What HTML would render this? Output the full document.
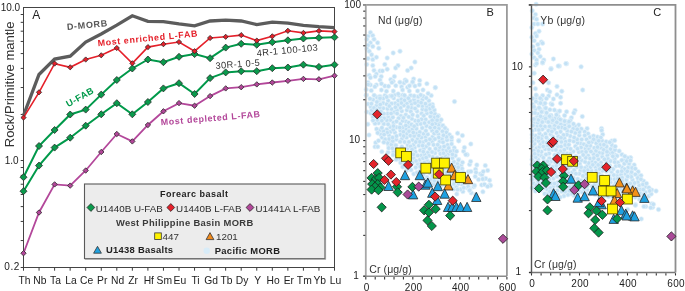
<!DOCTYPE html>
<html><head><meta charset="utf-8"><style>
html,body{margin:0;padding:0;background:#fff;}
svg{display:block;font-family:"Liberation Sans", sans-serif;will-change:transform;}
</style></head><body>
<svg width="685" height="291" viewBox="0 0 685 291">
<rect width="685" height="291" fill="#fff"/>
<g fill="#c3e1f5" stroke="#e4f2fb" stroke-width="0.7"><circle cx="370.4" cy="32.5" r="2.25"/><circle cx="372.8" cy="35.6" r="2.25"/><circle cx="368.0" cy="36.3" r="2.25"/><circle cx="374.0" cy="39.2" r="2.25"/><circle cx="366.8" cy="39.2" r="2.25"/><circle cx="370.4" cy="42.8" r="2.25"/><circle cx="377.6" cy="42.8" r="2.25"/><circle cx="368.0" cy="45.2" r="2.25"/><circle cx="372.8" cy="46.4" r="2.25"/><circle cx="378.8" cy="48.3" r="2.25"/><circle cx="366.8" cy="48.8" r="2.25"/><circle cx="369.2" cy="51.2" r="2.25"/><circle cx="371.6" cy="54.8" r="2.25"/><circle cx="393.2" cy="52.9" r="2.25"/><circle cx="400.0" cy="51.2" r="2.25"/><circle cx="376.4" cy="57.2" r="2.25"/><circle cx="368.0" cy="58.4" r="2.25"/><circle cx="372.8" cy="59.6" r="2.25"/><circle cx="387.2" cy="58.0" r="2.25"/><circle cx="366.8" cy="64.4" r="2.25"/><circle cx="372.8" cy="65.6" r="2.25"/><circle cx="384.8" cy="64.4" r="2.25"/><circle cx="398.0" cy="65.6" r="2.25"/><circle cx="395.6" cy="68.0" r="2.25"/><circle cx="414.9" cy="62.0" r="2.25"/><circle cx="411.2" cy="68.0" r="2.25"/><circle cx="407.6" cy="70.4" r="2.25"/><circle cx="374.0" cy="70.4" r="2.25"/><circle cx="380.0" cy="70.9" r="2.25"/><circle cx="382.4" cy="70.9" r="2.25"/><circle cx="387.2" cy="69.2" r="2.25"/><circle cx="376.4" cy="74.0" r="2.25"/><circle cx="369.2" cy="75.3" r="2.25"/><circle cx="370.4" cy="77.7" r="2.25"/><circle cx="375.2" cy="76.5" r="2.25"/><circle cx="381.2" cy="76.5" r="2.25"/><circle cx="394.4" cy="76.5" r="2.25"/><circle cx="390.8" cy="79.6" r="2.25"/><circle cx="393.2" cy="81.3" r="2.25"/><circle cx="380.0" cy="80.0" r="2.25"/><circle cx="405.2" cy="80.0" r="2.25"/><circle cx="404.0" cy="83.0" r="2.25"/><circle cx="413.6" cy="78.9" r="2.25"/><circle cx="412.4" cy="82.5" r="2.25"/><circle cx="419.7" cy="80.5" r="2.25"/><circle cx="426.9" cy="83.7" r="2.25"/><circle cx="435.3" cy="87.7" r="2.25"/><circle cx="368.0" cy="82.5" r="2.25"/><circle cx="370.4" cy="84.9" r="2.25"/><circle cx="376.4" cy="84.9" r="2.25"/><circle cx="384.8" cy="86.0" r="2.25"/><circle cx="401.6" cy="86.8" r="2.25"/><circle cx="407.6" cy="87.3" r="2.25"/><circle cx="414.9" cy="86.1" r="2.25"/><circle cx="435.3" cy="87.6" r="2.25"/><circle cx="431.2" cy="95.6" r="2.25"/><circle cx="454.5" cy="101.6" r="2.25"/><circle cx="432.4" cy="104.4" r="2.25"/><circle cx="433.6" cy="110.4" r="2.25"/><circle cx="438.4" cy="115.7" r="2.25"/><circle cx="432.4" cy="116.5" r="2.25"/><circle cx="434.8" cy="120.0" r="2.25"/><circle cx="439.6" cy="122.0" r="2.25"/><circle cx="440.8" cy="126.0" r="2.25"/><circle cx="446.8" cy="130.0" r="2.25"/><circle cx="457.6" cy="133.2" r="2.25"/><circle cx="462.4" cy="135.6" r="2.25"/><circle cx="458.8" cy="140.4" r="2.25"/><circle cx="470.8" cy="144.0" r="2.25"/><circle cx="463.6" cy="151.2" r="2.25"/><circle cx="467.2" cy="154.8" r="2.25"/><circle cx="454.0" cy="156.0" r="2.25"/><circle cx="458.8" cy="159.6" r="2.25"/><circle cx="469.6" cy="164.4" r="2.25"/><circle cx="475.6" cy="169.2" r="2.25"/><circle cx="485.3" cy="165.6" r="2.25"/><circle cx="487.7" cy="170.4" r="2.25"/><circle cx="480.4" cy="174.0" r="2.25"/><circle cx="484.1" cy="178.9" r="2.25"/><circle cx="490.0" cy="184.9" r="2.25"/><circle cx="481.7" cy="184.9" r="2.25"/><circle cx="468.4" cy="171.7" r="2.25"/><circle cx="476.0" cy="172.4" r="2.25"/><circle cx="482.0" cy="174.8" r="2.25"/><circle cx="485.7" cy="178.4" r="2.25"/><circle cx="490.5" cy="185.6" r="2.25"/><circle cx="484.5" cy="184.4" r="2.25"/><circle cx="478.5" cy="179.6" r="2.25"/><circle cx="471.3" cy="192.9" r="2.25"/><circle cx="462.9" cy="191.6" r="2.25"/><circle cx="456.8" cy="194.0" r="2.25"/><circle cx="467.7" cy="188.0" r="2.25"/><circle cx="473.7" cy="186.8" r="2.25"/><circle cx="367.8" cy="124.2" r="2.25"/><circle cx="375.7" cy="142.7" r="2.25"/><circle cx="378.5" cy="140.7" r="2.25"/><circle cx="375.0" cy="146.8" r="2.25"/><circle cx="377.8" cy="146.8" r="2.25"/><circle cx="381.9" cy="151.7" r="2.25"/><circle cx="388.1" cy="152.3" r="2.25"/><circle cx="389.5" cy="142.7" r="2.25"/><circle cx="388.8" cy="145.5" r="2.25"/><circle cx="394.3" cy="144.8" r="2.25"/><circle cx="366.5" cy="95.0" r="2.25"/><circle cx="368.0" cy="104.0" r="2.25"/><circle cx="366.8" cy="112.0" r="2.25"/><circle cx="369.0" cy="135.0" r="2.25"/><circle cx="414.7" cy="147.7" r="2.25"/><circle cx="420.3" cy="150.4" r="2.25"/><circle cx="387.7" cy="143.1" r="2.25"/><circle cx="432.6" cy="170.1" r="2.25"/><circle cx="378.5" cy="123.1" r="2.25"/><circle cx="468.2" cy="186.6" r="2.25"/><circle cx="435.0" cy="153.1" r="2.25"/><circle cx="384.9" cy="95.4" r="2.25"/><circle cx="422.4" cy="99.7" r="2.25"/><circle cx="388.2" cy="117.2" r="2.25"/><circle cx="421.4" cy="155.5" r="2.25"/><circle cx="415.2" cy="120.7" r="2.25"/><circle cx="469.8" cy="189.6" r="2.25"/><circle cx="453.9" cy="161.9" r="2.25"/><circle cx="400.8" cy="116.0" r="2.25"/><circle cx="398.2" cy="100.7" r="2.25"/><circle cx="446.4" cy="132.4" r="2.25"/><circle cx="380.9" cy="117.7" r="2.25"/><circle cx="379.2" cy="99.7" r="2.25"/><circle cx="425.5" cy="137.0" r="2.25"/><circle cx="380.8" cy="134.4" r="2.25"/><circle cx="390.5" cy="119.9" r="2.25"/><circle cx="390.3" cy="131.9" r="2.25"/><circle cx="455.3" cy="155.6" r="2.25"/><circle cx="393.5" cy="151.7" r="2.25"/><circle cx="406.5" cy="137.5" r="2.25"/><circle cx="427.0" cy="177.2" r="2.25"/><circle cx="387.5" cy="108.8" r="2.25"/><circle cx="460.8" cy="172.5" r="2.25"/><circle cx="394.2" cy="112.2" r="2.25"/><circle cx="443.7" cy="184.3" r="2.25"/><circle cx="411.6" cy="104.0" r="2.25"/><circle cx="429.2" cy="122.2" r="2.25"/><circle cx="375.9" cy="115.9" r="2.25"/><circle cx="414.0" cy="99.8" r="2.25"/><circle cx="386.8" cy="129.4" r="2.25"/><circle cx="426.8" cy="106.6" r="2.25"/><circle cx="438.8" cy="150.1" r="2.25"/><circle cx="417.7" cy="164.1" r="2.25"/><circle cx="443.4" cy="180.4" r="2.25"/><circle cx="443.4" cy="161.6" r="2.25"/><circle cx="449.1" cy="181.8" r="2.25"/><circle cx="404.5" cy="159.8" r="2.25"/><circle cx="460.0" cy="177.6" r="2.25"/><circle cx="411.1" cy="169.9" r="2.25"/><circle cx="432.1" cy="130.7" r="2.25"/><circle cx="427.9" cy="152.5" r="2.25"/><circle cx="442.5" cy="131.3" r="2.25"/><circle cx="443.2" cy="149.8" r="2.25"/><circle cx="417.6" cy="116.1" r="2.25"/><circle cx="439.5" cy="141.7" r="2.25"/><circle cx="431.1" cy="182.4" r="2.25"/><circle cx="394.8" cy="95.1" r="2.25"/><circle cx="399.4" cy="159.1" r="2.25"/><circle cx="389.0" cy="135.4" r="2.25"/><circle cx="453.5" cy="175.5" r="2.25"/><circle cx="397.0" cy="110.2" r="2.25"/><circle cx="432.2" cy="141.4" r="2.25"/><circle cx="376.5" cy="97.0" r="2.25"/><circle cx="370.9" cy="107.0" r="2.25"/><circle cx="414.9" cy="96.4" r="2.25"/><circle cx="383.2" cy="98.5" r="2.25"/><circle cx="432.5" cy="136.9" r="2.25"/><circle cx="432.6" cy="156.9" r="2.25"/><circle cx="450.5" cy="186.0" r="2.25"/><circle cx="417.0" cy="111.2" r="2.25"/><circle cx="396.5" cy="127.2" r="2.25"/><circle cx="431.1" cy="166.6" r="2.25"/><circle cx="382.1" cy="137.5" r="2.25"/><circle cx="407.1" cy="148.6" r="2.25"/><circle cx="457.8" cy="170.5" r="2.25"/><circle cx="434.8" cy="113.7" r="2.25"/><circle cx="441.9" cy="172.6" r="2.25"/><circle cx="433.8" cy="162.9" r="2.25"/><circle cx="423.2" cy="169.9" r="2.25"/><circle cx="418.2" cy="96.7" r="2.25"/><circle cx="383.2" cy="108.3" r="2.25"/><circle cx="421.2" cy="163.5" r="2.25"/><circle cx="391.4" cy="144.6" r="2.25"/><circle cx="454.2" cy="147.8" r="2.25"/><circle cx="400.5" cy="130.6" r="2.25"/><circle cx="454.4" cy="180.5" r="2.25"/><circle cx="426.9" cy="113.3" r="2.25"/><circle cx="423.1" cy="142.3" r="2.25"/><circle cx="423.4" cy="133.7" r="2.25"/><circle cx="465.6" cy="182.6" r="2.25"/><circle cx="396.2" cy="139.4" r="2.25"/><circle cx="417.1" cy="124.5" r="2.25"/><circle cx="438.4" cy="124.9" r="2.25"/><circle cx="404.9" cy="153.5" r="2.25"/><circle cx="406.9" cy="133.7" r="2.25"/><circle cx="422.5" cy="109.3" r="2.25"/><circle cx="433.5" cy="144.8" r="2.25"/><circle cx="395.2" cy="103.3" r="2.25"/><circle cx="409.7" cy="159.8" r="2.25"/><circle cx="370.8" cy="113.3" r="2.25"/><circle cx="437.9" cy="181.5" r="2.25"/><circle cx="420.1" cy="166.8" r="2.25"/><circle cx="419.8" cy="159.8" r="2.25"/><circle cx="388.1" cy="100.8" r="2.25"/><circle cx="387.6" cy="113.6" r="2.25"/><circle cx="453.9" cy="189.1" r="2.25"/><circle cx="415.7" cy="167.4" r="2.25"/><circle cx="402.0" cy="138.8" r="2.25"/><circle cx="439.8" cy="175.0" r="2.25"/><circle cx="444.2" cy="168.7" r="2.25"/><circle cx="439.2" cy="167.7" r="2.25"/><circle cx="435.6" cy="148.7" r="2.25"/><circle cx="394.9" cy="132.5" r="2.25"/><circle cx="374.1" cy="112.8" r="2.25"/><circle cx="406.9" cy="103.5" r="2.25"/><circle cx="385.2" cy="139.3" r="2.25"/><circle cx="405.9" cy="121.4" r="2.25"/><circle cx="398.9" cy="95.3" r="2.25"/><circle cx="393.7" cy="98.1" r="2.25"/><circle cx="412.4" cy="139.9" r="2.25"/><circle cx="442.0" cy="139.0" r="2.25"/><circle cx="430.0" cy="105.0" r="2.25"/><circle cx="422.3" cy="105.9" r="2.25"/><circle cx="413.7" cy="158.1" r="2.25"/><circle cx="427.8" cy="134.3" r="2.25"/><circle cx="447.6" cy="145.0" r="2.25"/><circle cx="448.2" cy="154.0" r="2.25"/><circle cx="373.0" cy="99.8" r="2.25"/><circle cx="424.6" cy="154.6" r="2.25"/><circle cx="390.3" cy="127.0" r="2.25"/><circle cx="376.5" cy="105.5" r="2.25"/><circle cx="411.9" cy="118.8" r="2.25"/><circle cx="401.9" cy="146.7" r="2.25"/><circle cx="412.2" cy="129.4" r="2.25"/><circle cx="376.9" cy="102.0" r="2.25"/><circle cx="426.0" cy="140.5" r="2.25"/><circle cx="405.1" cy="163.7" r="2.25"/><circle cx="461.8" cy="184.2" r="2.25"/><circle cx="463.4" cy="179.9" r="2.25"/><circle cx="405.9" cy="128.9" r="2.25"/><circle cx="409.0" cy="131.2" r="2.25"/><circle cx="388.7" cy="148.1" r="2.25"/><circle cx="424.0" cy="148.5" r="2.25"/><circle cx="434.5" cy="117.6" r="2.25"/><circle cx="408.8" cy="126.4" r="2.25"/><circle cx="418.9" cy="145.6" r="2.25"/><circle cx="452.4" cy="158.0" r="2.25"/><circle cx="411.5" cy="108.0" r="2.25"/><circle cx="406.9" cy="110.1" r="2.25"/><circle cx="375.0" cy="123.6" r="2.25"/><circle cx="428.0" cy="181.3" r="2.25"/><circle cx="451.5" cy="140.0" r="2.25"/><circle cx="406.5" cy="170.5" r="2.25"/><circle cx="395.9" cy="145.3" r="2.25"/><circle cx="377.3" cy="119.9" r="2.25"/><circle cx="417.5" cy="139.0" r="2.25"/><circle cx="400.5" cy="123.8" r="2.25"/><circle cx="442.9" cy="125.6" r="2.25"/><circle cx="383.2" cy="103.1" r="2.25"/><circle cx="437.4" cy="162.0" r="2.25"/><circle cx="387.2" cy="132.6" r="2.25"/><circle cx="453.5" cy="150.9" r="2.25"/><circle cx="410.1" cy="101.0" r="2.25"/><circle cx="446.5" cy="172.8" r="2.25"/><circle cx="410.6" cy="95.5" r="2.25"/><circle cx="403.6" cy="156.5" r="2.25"/><circle cx="379.7" cy="130.3" r="2.25"/><circle cx="404.6" cy="142.0" r="2.25"/><circle cx="427.2" cy="160.9" r="2.25"/><circle cx="425.6" cy="119.4" r="2.25"/><circle cx="460.8" cy="189.2" r="2.25"/><circle cx="435.5" cy="123.5" r="2.25"/><circle cx="389.2" cy="138.9" r="2.25"/><circle cx="383.4" cy="131.1" r="2.25"/><circle cx="421.5" cy="119.3" r="2.25"/><circle cx="426.4" cy="125.9" r="2.25"/><circle cx="416.5" cy="133.5" r="2.25"/><circle cx="432.0" cy="160.2" r="2.25"/><circle cx="410.3" cy="135.7" r="2.25"/><circle cx="401.4" cy="99.2" r="2.25"/><circle cx="428.9" cy="100.7" r="2.25"/><circle cx="419.8" cy="132.1" r="2.25"/><circle cx="436.2" cy="177.2" r="2.25"/><circle cx="393.6" cy="122.7" r="2.25"/><circle cx="400.1" cy="141.8" r="2.25"/><circle cx="436.1" cy="169.9" r="2.25"/><circle cx="397.0" cy="155.4" r="2.25"/><circle cx="413.5" cy="144.7" r="2.25"/><circle cx="420.1" cy="175.2" r="2.25"/><circle cx="430.4" cy="116.6" r="2.25"/><circle cx="448.4" cy="169.9" r="2.25"/><circle cx="392.8" cy="141.0" r="2.25"/><circle cx="426.5" cy="146.2" r="2.25"/><circle cx="383.8" cy="123.9" r="2.25"/><circle cx="452.9" cy="169.5" r="2.25"/><circle cx="405.8" cy="114.8" r="2.25"/><circle cx="373.0" cy="117.1" r="2.25"/><circle cx="446.1" cy="164.5" r="2.25"/><circle cx="438.8" cy="128.8" r="2.25"/><circle cx="441.2" cy="119.8" r="2.25"/><circle cx="408.8" cy="116.9" r="2.25"/><circle cx="400.5" cy="134.7" r="2.25"/><circle cx="442.3" cy="158.0" r="2.25"/><circle cx="383.9" cy="113.7" r="2.25"/><circle cx="426.2" cy="171.6" r="2.25"/><circle cx="439.8" cy="147.1" r="2.25"/><circle cx="437.7" cy="116.5" r="2.25"/><circle cx="400.6" cy="162.7" r="2.25"/><circle cx="401.8" cy="111.1" r="2.25"/><circle cx="447.0" cy="140.1" r="2.25"/><circle cx="402.7" cy="166.9" r="2.25"/><circle cx="440.4" cy="153.8" r="2.25"/><circle cx="438.4" cy="134.3" r="2.25"/><circle cx="449.8" cy="174.5" r="2.25"/><circle cx="386.7" cy="104.3" r="2.25"/><circle cx="418.3" cy="105.6" r="2.25"/><circle cx="432.2" cy="120.3" r="2.25"/><circle cx="413.8" cy="174.0" r="2.25"/><circle cx="371.7" cy="110.2" r="2.25"/><circle cx="444.1" cy="146.4" r="2.25"/><circle cx="379.7" cy="107.7" r="2.25"/><circle cx="431.2" cy="179.2" r="2.25"/><circle cx="438.7" cy="137.5" r="2.25"/><circle cx="429.7" cy="149.0" r="2.25"/><circle cx="463.7" cy="173.6" r="2.25"/><circle cx="380.9" cy="111.4" r="2.25"/><circle cx="457.5" cy="163.9" r="2.25"/><circle cx="416.4" cy="128.7" r="2.25"/><circle cx="410.1" cy="152.8" r="2.25"/><circle cx="456.2" cy="186.5" r="2.25"/><circle cx="408.8" cy="122.7" r="2.25"/><circle cx="391.5" cy="103.5" r="2.25"/><circle cx="449.4" cy="134.8" r="2.25"/><circle cx="414.2" cy="135.9" r="2.25"/><circle cx="423.2" cy="174.6" r="2.25"/><circle cx="428.7" cy="143.9" r="2.25"/><circle cx="398.6" cy="118.3" r="2.25"/><circle cx="396.5" cy="121.4" r="2.25"/><circle cx="392.6" cy="137.5" r="2.25"/><circle cx="422.2" cy="128.0" r="2.25"/><circle cx="418.1" cy="101.6" r="2.25"/><circle cx="463.8" cy="187.7" r="2.25"/><circle cx="402.9" cy="127.3" r="2.25"/><circle cx="408.1" cy="107.0" r="2.25"/><circle cx="417.1" cy="172.6" r="2.25"/><circle cx="415.4" cy="151.9" r="2.25"/><circle cx="390.4" cy="95.9" r="2.25"/><circle cx="396.2" cy="149.1" r="2.25"/><circle cx="417.7" cy="155.6" r="2.25"/><circle cx="448.3" cy="177.9" r="2.25"/><circle cx="402.7" cy="120.8" r="2.25"/><circle cx="433.8" cy="184.1" r="2.25"/><circle cx="426.9" cy="165.4" r="2.25"/><circle cx="409.7" cy="156.4" r="2.25"/><circle cx="423.3" cy="96.3" r="2.25"/><circle cx="386.8" cy="120.2" r="2.25"/><circle cx="400.4" cy="150.8" r="2.25"/><circle cx="420.7" cy="123.9" r="2.25"/><circle cx="456.7" cy="174.3" r="2.25"/><circle cx="425.4" cy="103.7" r="2.25"/><circle cx="425.9" cy="130.8" r="2.25"/><circle cx="407.8" cy="145.0" r="2.25"/><circle cx="431.1" cy="112.6" r="2.25"/><circle cx="402.9" cy="94.9" r="2.25"/><circle cx="443.8" cy="177.1" r="2.25"/><circle cx="411.5" cy="124.5" r="2.25"/><circle cx="410.8" cy="111.6" r="2.25"/><circle cx="429.9" cy="173.1" r="2.25"/><circle cx="403.8" cy="105.6" r="2.25"/><circle cx="420.1" cy="171.2" r="2.25"/><circle cx="384.1" cy="134.6" r="2.25"/><circle cx="434.9" cy="139.1" r="2.25"/><circle cx="429.9" cy="139.2" r="2.25"/><circle cx="465.0" cy="177.0" r="2.25"/><circle cx="445.6" cy="156.0" r="2.25"/><circle cx="446.6" cy="150.7" r="2.25"/><circle cx="421.6" cy="113.5" r="2.25"/><circle cx="381.9" cy="127.8" r="2.25"/><circle cx="405.3" cy="97.1" r="2.25"/><circle cx="388.1" cy="124.3" r="2.25"/><circle cx="410.6" cy="146.4" r="2.25"/><circle cx="371.4" cy="103.7" r="2.25"/><circle cx="458.4" cy="183.7" r="2.25"/><circle cx="430.2" cy="127.6" r="2.25"/><circle cx="392.9" cy="117.3" r="2.25"/><circle cx="437.2" cy="157.8" r="2.25"/><circle cx="432.1" cy="152.0" r="2.25"/><circle cx="429.0" cy="155.8" r="2.25"/><circle cx="451.6" cy="165.0" r="2.25"/><circle cx="461.1" cy="165.7" r="2.25"/><circle cx="397.3" cy="152.2" r="2.25"/><circle cx="421.4" cy="137.6" r="2.25"/><circle cx="397.1" cy="113.5" r="2.25"/><circle cx="413.3" cy="132.5" r="2.25"/><circle cx="393.2" cy="129.7" r="2.25"/><circle cx="446.5" cy="136.9" r="2.25"/><circle cx="434.2" cy="133.5" r="2.25"/><circle cx="432.4" cy="176.0" r="2.25"/><circle cx="384.1" cy="118.3" r="2.25"/><circle cx="405.8" cy="125.5" r="2.25"/><circle cx="423.0" cy="158.3" r="2.25"/><circle cx="398.0" cy="105.0" r="2.25"/><circle cx="446.9" cy="187.0" r="2.25"/><circle cx="376.6" cy="129.0" r="2.25"/><circle cx="391.5" cy="109.0" r="2.25"/><circle cx="448.7" cy="148.1" r="2.25"/><circle cx="447.9" cy="158.2" r="2.25"/><circle cx="451.6" cy="143.9" r="2.25"/><circle cx="454.9" cy="166.7" r="2.25"/><circle cx="408.1" cy="162.6" r="2.25"/><circle cx="434.4" cy="110.0" r="2.25"/><circle cx="434.3" cy="167.1" r="2.25"/><circle cx="440.2" cy="178.3" r="2.25"/><circle cx="434.7" cy="127.5" r="2.25"/><circle cx="424.5" cy="123.1" r="2.25"/><circle cx="410.2" cy="165.1" r="2.25"/><circle cx="443.4" cy="135.2" r="2.25"/><circle cx="419.7" cy="141.8" r="2.25"/><circle cx="415.7" cy="142.0" r="2.25"/><circle cx="396.5" cy="136.1" r="2.25"/><circle cx="379.0" cy="114.2" r="2.25"/><circle cx="408.9" cy="141.9" r="2.25"/><circle cx="458.5" cy="159.9" r="2.25"/><circle cx="391.1" cy="113.5" r="2.25"/><circle cx="429.9" cy="108.7" r="2.25"/><circle cx="414.2" cy="126.2" r="2.25"/><circle cx="395.4" cy="107.3" r="2.25"/><circle cx="422.0" cy="178.1" r="2.25"/><circle cx="399.7" cy="127.5" r="2.25"/><circle cx="374.0" cy="107.9" r="2.25"/><circle cx="453.8" cy="183.9" r="2.25"/><circle cx="412.6" cy="162.5" r="2.25"/><circle cx="426.2" cy="98.0" r="2.25"/><circle cx="376.7" cy="110.0" r="2.25"/><circle cx="432.8" cy="106.9" r="2.25"/><circle cx="440.7" cy="186.1" r="2.25"/><circle cx="445.0" cy="128.0" r="2.25"/><circle cx="448.7" cy="162.0" r="2.25"/><circle cx="377.7" cy="132.9" r="2.25"/><circle cx="412.6" cy="114.8" r="2.25"/><circle cx="404.5" cy="100.4" r="2.25"/><circle cx="456.9" cy="178.2" r="2.25"/><circle cx="383.8" cy="142.3" r="2.25"/><circle cx="407.3" cy="167.3" r="2.25"/><circle cx="437.0" cy="165.2" r="2.25"/><circle cx="403.4" cy="131.8" r="2.25"/><circle cx="401.4" cy="103.0" r="2.25"/><circle cx="413.4" cy="154.4" r="2.25"/><circle cx="426.2" cy="157.5" r="2.25"/><circle cx="437.7" cy="144.7" r="2.25"/><circle cx="408.4" cy="98.2" r="2.25"/><circle cx="443.0" cy="142.3" r="2.25"/><circle cx="437.1" cy="120.2" r="2.25"/><circle cx="436.8" cy="131.6" r="2.25"/><circle cx="403.5" cy="117.8" r="2.25"/><circle cx="441.5" cy="165.3" r="2.25"/><circle cx="451.8" cy="178.4" r="2.25"/><circle cx="423.8" cy="115.8" r="2.25"/><circle cx="415.1" cy="108.5" r="2.25"/><circle cx="434.6" cy="172.9" r="2.25"/><circle cx="425.0" cy="179.8" r="2.25"/><circle cx="424.4" cy="162.6" r="2.25"/><circle cx="392.4" cy="148.3" r="2.25"/><circle cx="389.3" cy="106.1" r="2.25"/><circle cx="450.4" cy="151.6" r="2.25"/><circle cx="400.9" cy="154.6" r="2.25"/><circle cx="462.1" cy="168.7" r="2.25"/><circle cx="457.5" cy="189.6" r="2.25"/><circle cx="429.6" cy="163.0" r="2.25"/><circle cx="418.4" cy="120.8" r="2.25"/><circle cx="400.6" cy="107.9" r="2.25"/><circle cx="423.3" cy="151.7" r="2.25"/><circle cx="412.1" cy="149.5" r="2.25"/><circle cx="373.0" cy="120.5" r="2.25"/><circle cx="426.0" cy="110.1" r="2.25"/><circle cx="467.1" cy="179.4" r="2.25"/><circle cx="396.2" cy="159.5" r="2.25"/><circle cx="393.1" cy="154.9" r="2.25"/><circle cx="443.5" cy="153.2" r="2.25"/><circle cx="432.3" cy="124.3" r="2.25"/><circle cx="380.3" cy="104.5" r="2.25"/><circle cx="416.0" cy="160.9" r="2.25"/><circle cx="428.4" cy="168.4" r="2.25"/><circle cx="434.4" cy="180.8" r="2.25"/><circle cx="440.4" cy="160.5" r="2.25"/><circle cx="393.5" cy="126.1" r="2.25"/><circle cx="415.0" cy="103.1" r="2.25"/><circle cx="452.4" cy="154.4" r="2.25"/><circle cx="379.9" cy="96.4" r="2.25"/><circle cx="439.1" cy="171.2" r="2.25"/><circle cx="404.4" cy="150.4" r="2.25"/><circle cx="448.7" cy="166.4" r="2.25"/><circle cx="403.6" cy="136.0" r="2.25"/><circle cx="381.8" cy="120.7" r="2.25"/><circle cx="422.6" cy="145.6" r="2.25"/><circle cx="423.3" cy="166.1" r="2.25"/><circle cx="418.9" cy="135.6" r="2.25"/><circle cx="458.2" cy="167.3" r="2.25"/><circle cx="421.1" cy="102.7" r="2.25"/><circle cx="404.5" cy="95.3" r="2.25"/><circle cx="417.6" cy="90.9" r="2.25"/><circle cx="374.9" cy="86.7" r="2.25"/><circle cx="388.5" cy="86.3" r="2.25"/><circle cx="419.4" cy="84.7" r="2.25"/><circle cx="402.6" cy="89.9" r="2.25"/><circle cx="428.1" cy="93.4" r="2.25"/><circle cx="420.7" cy="95.0" r="2.25"/><circle cx="393.3" cy="91.1" r="2.25"/><circle cx="381.4" cy="90.0" r="2.25"/><circle cx="395.8" cy="85.7" r="2.25"/><circle cx="370.0" cy="98.7" r="2.25"/><circle cx="371.3" cy="90.6" r="2.25"/><circle cx="423.0" cy="89.9" r="2.25"/><circle cx="409.5" cy="85.8" r="2.25"/><circle cx="398.2" cy="93.9" r="2.25"/><circle cx="386.7" cy="97.0" r="2.25"/><circle cx="406.4" cy="81.1" r="2.25"/><circle cx="414.1" cy="96.0" r="2.25"/><circle cx="374.1" cy="95.3" r="2.25"/><circle cx="399.9" cy="82.2" r="2.25"/><circle cx="386.5" cy="91.2" r="2.25"/><circle cx="391.9" cy="96.0" r="2.25"/><circle cx="380.0" cy="98.3" r="2.25"/><circle cx="381.4" cy="83.7" r="2.25"/><circle cx="366.2" cy="95.2" r="2.25"/><circle cx="409.3" cy="91.0" r="2.25"/><circle cx="368.1" cy="84.5" r="2.25"/><circle cx="391.9" cy="82.5" r="2.25"/><circle cx="412.7" cy="81.9" r="2.25"/><circle cx="366.2" cy="89.5" r="2.25"/><circle cx="474.6" cy="185.4" r="2.25"/><circle cx="470.9" cy="171.5" r="2.25"/><circle cx="487.6" cy="186.4" r="2.25"/><circle cx="456.6" cy="151.3" r="2.25"/><circle cx="465.8" cy="154.6" r="2.25"/><circle cx="464.4" cy="147.5" r="2.25"/><circle cx="462.5" cy="162.4" r="2.25"/><circle cx="470.6" cy="161.4" r="2.25"/><circle cx="482.7" cy="179.0" r="2.25"/><circle cx="475.6" cy="194.4" r="2.25"/><circle cx="468.2" cy="179.0" r="2.25"/><circle cx="476.8" cy="164.9" r="2.25"/><circle cx="451.6" cy="137.3" r="2.25"/><circle cx="469.6" cy="190.4" r="2.25"/><circle cx="458.7" cy="140.9" r="2.25"/><circle cx="483.3" cy="171.5" r="2.25"/><circle cx="463.0" cy="172.3" r="2.25"/><circle cx="482.9" cy="191.8" r="2.25"/><circle cx="475.2" cy="176.5" r="2.25"/><circle cx="489.6" cy="180.2" r="2.25"/></g>
<g fill="#c3e1f5" stroke="#e4f2fb" stroke-width="0.7"><circle cx="536.1" cy="4.3" r="2.25"/><circle cx="532.3" cy="10.8" r="2.25"/><circle cx="535.4" cy="14.4" r="2.25"/><circle cx="534.2" cy="18.0" r="2.25"/><circle cx="536.6" cy="19.2" r="2.25"/><circle cx="534.2" cy="24.0" r="2.25"/><circle cx="537.8" cy="24.0" r="2.25"/><circle cx="542.6" cy="24.0" r="2.25"/><circle cx="531.8" cy="27.6" r="2.25"/><circle cx="539.0" cy="31.2" r="2.25"/><circle cx="535.4" cy="33.6" r="2.25"/><circle cx="531.8" cy="37.2" r="2.25"/><circle cx="536.6" cy="36.0" r="2.25"/><circle cx="541.4" cy="42.0" r="2.25"/><circle cx="542.6" cy="43.2" r="2.25"/><circle cx="537.8" cy="44.4" r="2.25"/><circle cx="534.2" cy="40.8" r="2.25"/><circle cx="533.0" cy="46.8" r="2.25"/><circle cx="539.0" cy="49.2" r="2.25"/><circle cx="534.2" cy="50.4" r="2.25"/><circle cx="537.8" cy="52.9" r="2.25"/><circle cx="531.8" cy="54.1" r="2.25"/><circle cx="540.2" cy="56.5" r="2.25"/><circle cx="543.8" cy="60.0" r="2.25"/><circle cx="553.4" cy="58.9" r="2.25"/><circle cx="534.2" cy="57.7" r="2.25"/><circle cx="536.6" cy="60.0" r="2.25"/><circle cx="542.6" cy="63.0" r="2.25"/><circle cx="535.4" cy="64.9" r="2.25"/><circle cx="551.0" cy="68.5" r="2.25"/><circle cx="559.4" cy="66.1" r="2.25"/><circle cx="566.6" cy="63.7" r="2.25"/><circle cx="581.1" cy="66.8" r="2.25"/><circle cx="536.6" cy="63.6" r="2.25"/><circle cx="542.6" cy="62.4" r="2.25"/><circle cx="551.0" cy="69.1" r="2.25"/><circle cx="558.2" cy="66.0" r="2.25"/><circle cx="565.9" cy="63.6" r="2.25"/><circle cx="534.2" cy="73.2" r="2.25"/><circle cx="533.0" cy="82.8" r="2.25"/><circle cx="548.6" cy="82.8" r="2.25"/><circle cx="557.0" cy="86.4" r="2.25"/><circle cx="535.4" cy="88.8" r="2.25"/><circle cx="547.4" cy="90.0" r="2.25"/><circle cx="549.8" cy="91.7" r="2.25"/><circle cx="561.8" cy="91.2" r="2.25"/><circle cx="582.7" cy="90.0" r="2.25"/><circle cx="536.6" cy="96.0" r="2.25"/><circle cx="542.6" cy="95.6" r="2.25"/><circle cx="548.6" cy="96.0" r="2.25"/><circle cx="557.0" cy="94.8" r="2.25"/><circle cx="560.6" cy="97.2" r="2.25"/><circle cx="535.4" cy="98.4" r="2.25"/><circle cx="541.4" cy="99.6" r="2.25"/><circle cx="553.4" cy="98.9" r="2.25"/><circle cx="533.0" cy="104.4" r="2.25"/><circle cx="539.0" cy="103.2" r="2.25"/><circle cx="543.8" cy="104.4" r="2.25"/><circle cx="551.0" cy="103.7" r="2.25"/><circle cx="560.6" cy="103.2" r="2.25"/><circle cx="535.4" cy="109.2" r="2.25"/><circle cx="540.2" cy="109.2" r="2.25"/><circle cx="545.0" cy="108.0" r="2.25"/><circle cx="533.0" cy="112.9" r="2.25"/><circle cx="537.8" cy="114.1" r="2.25"/><circle cx="542.6" cy="111.7" r="2.25"/><circle cx="558.2" cy="111.7" r="2.25"/><circle cx="566.6" cy="111.7" r="2.25"/><circle cx="575.0" cy="110.4" r="2.25"/><circle cx="573.8" cy="112.9" r="2.25"/><circle cx="536.6" cy="117.7" r="2.25"/><circle cx="541.4" cy="117.7" r="2.25"/><circle cx="546.2" cy="115.3" r="2.25"/><circle cx="551.0" cy="115.3" r="2.25"/><circle cx="558.2" cy="116.5" r="2.25"/><circle cx="571.4" cy="117.7" r="2.25"/><circle cx="582.3" cy="116.5" r="2.25"/><circle cx="534.2" cy="122.5" r="2.25"/><circle cx="539.0" cy="122.5" r="2.25"/><circle cx="543.8" cy="121.3" r="2.25"/><circle cx="549.8" cy="121.3" r="2.25"/><circle cx="554.6" cy="123.7" r="2.25"/><circle cx="565.4" cy="122.0" r="2.25"/><circle cx="570.2" cy="120.5" r="2.25"/><circle cx="578.7" cy="124.9" r="2.25"/><circle cx="587.1" cy="128.5" r="2.25"/><circle cx="601.5" cy="128.5" r="2.25"/><circle cx="537.8" cy="127.3" r="2.25"/><circle cx="545.0" cy="127.3" r="2.25"/><circle cx="551.0" cy="127.3" r="2.25"/><circle cx="559.4" cy="127.3" r="2.25"/><circle cx="566.6" cy="128.5" r="2.25"/><circle cx="601.7" cy="130.4" r="2.25"/><circle cx="602.7" cy="134.4" r="2.25"/><circle cx="596.2" cy="140.0" r="2.25"/><circle cx="599.8" cy="140.9" r="2.25"/><circle cx="605.8" cy="142.9" r="2.25"/><circle cx="611.8" cy="140.9" r="2.25"/><circle cx="614.7" cy="140.4" r="2.25"/><circle cx="613.7" cy="147.2" r="2.25"/><circle cx="598.6" cy="147.7" r="2.25"/><circle cx="605.8" cy="148.9" r="2.25"/><circle cx="615.4" cy="154.9" r="2.25"/><circle cx="610.6" cy="152.9" r="2.25"/><circle cx="599.8" cy="152.9" r="2.25"/><circle cx="630.6" cy="157.7" r="2.25"/><circle cx="623.8" cy="159.7" r="2.25"/><circle cx="624.0" cy="160.6" r="2.25"/><circle cx="630.4" cy="157.7" r="2.25"/><circle cx="629.2" cy="166.6" r="2.25"/><circle cx="624.9" cy="171.8" r="2.25"/><circle cx="631.7" cy="173.5" r="2.25"/><circle cx="613.7" cy="146.9" r="2.25"/><circle cx="614.5" cy="156.3" r="2.25"/><circle cx="629.5" cy="166.9" r="2.25"/><circle cx="638.0" cy="176.3" r="2.25"/><circle cx="651.8" cy="190.1" r="2.25"/><circle cx="656.1" cy="191.0" r="2.25"/><circle cx="651.8" cy="203.8" r="2.25"/><circle cx="652.7" cy="207.3" r="2.25"/><circle cx="645.8" cy="206.4" r="2.25"/><circle cx="635.5" cy="204.7" r="2.25"/><circle cx="632.9" cy="182.3" r="2.25"/><circle cx="631.2" cy="173.8" r="2.25"/><circle cx="626.0" cy="174.6" r="2.25"/><circle cx="623.4" cy="169.5" r="2.25"/><circle cx="625.2" cy="162.6" r="2.25"/><circle cx="635.3" cy="205.2" r="2.25"/><circle cx="643.9" cy="206.5" r="2.25"/><circle cx="650.8" cy="207.7" r="2.25"/><circle cx="653.4" cy="204.3" r="2.25"/><circle cx="658.5" cy="209.5" r="2.25"/><circle cx="641.3" cy="218.9" r="2.25"/><circle cx="627.6" cy="209.5" r="2.25"/><circle cx="587.5" cy="166.0" r="2.25"/><circle cx="567.3" cy="131.1" r="2.25"/><circle cx="643.4" cy="198.2" r="2.25"/><circle cx="587.3" cy="189.8" r="2.25"/><circle cx="536.1" cy="178.5" r="2.25"/><circle cx="621.8" cy="160.2" r="2.25"/><circle cx="577.7" cy="179.0" r="2.25"/><circle cx="625.7" cy="174.0" r="2.25"/><circle cx="548.8" cy="140.3" r="2.25"/><circle cx="542.1" cy="135.8" r="2.25"/><circle cx="540.6" cy="174.6" r="2.25"/><circle cx="601.9" cy="175.8" r="2.25"/><circle cx="593.4" cy="190.0" r="2.25"/><circle cx="563.7" cy="152.9" r="2.25"/><circle cx="561.4" cy="141.9" r="2.25"/><circle cx="602.3" cy="156.8" r="2.25"/><circle cx="580.7" cy="143.6" r="2.25"/><circle cx="585.5" cy="148.7" r="2.25"/><circle cx="534.8" cy="162.3" r="2.25"/><circle cx="617.1" cy="155.9" r="2.25"/><circle cx="634.2" cy="164.9" r="2.25"/><circle cx="588.5" cy="183.1" r="2.25"/><circle cx="554.7" cy="195.6" r="2.25"/><circle cx="536.3" cy="148.3" r="2.25"/><circle cx="537.6" cy="188.3" r="2.25"/><circle cx="627.1" cy="183.2" r="2.25"/><circle cx="584.7" cy="131.7" r="2.25"/><circle cx="607.4" cy="155.3" r="2.25"/><circle cx="601.3" cy="147.8" r="2.25"/><circle cx="567.6" cy="147.7" r="2.25"/><circle cx="553.4" cy="178.5" r="2.25"/><circle cx="602.5" cy="153.0" r="2.25"/><circle cx="546.2" cy="121.0" r="2.25"/><circle cx="558.4" cy="160.1" r="2.25"/><circle cx="578.8" cy="152.1" r="2.25"/><circle cx="561.8" cy="186.7" r="2.25"/><circle cx="564.3" cy="138.3" r="2.25"/><circle cx="580.5" cy="170.5" r="2.25"/><circle cx="553.1" cy="186.6" r="2.25"/><circle cx="598.9" cy="152.8" r="2.25"/><circle cx="547.0" cy="146.1" r="2.25"/><circle cx="532.3" cy="146.0" r="2.25"/><circle cx="590.2" cy="173.8" r="2.25"/><circle cx="570.2" cy="136.1" r="2.25"/><circle cx="572.1" cy="172.5" r="2.25"/><circle cx="577.9" cy="193.8" r="2.25"/><circle cx="627.7" cy="158.1" r="2.25"/><circle cx="588.2" cy="155.7" r="2.25"/><circle cx="645.8" cy="186.7" r="2.25"/><circle cx="573.2" cy="151.5" r="2.25"/><circle cx="605.5" cy="188.3" r="2.25"/><circle cx="583.9" cy="144.3" r="2.25"/><circle cx="575.2" cy="133.0" r="2.25"/><circle cx="641.0" cy="175.5" r="2.25"/><circle cx="639.2" cy="185.3" r="2.25"/><circle cx="541.1" cy="155.7" r="2.25"/><circle cx="552.5" cy="149.8" r="2.25"/><circle cx="589.0" cy="148.9" r="2.25"/><circle cx="606.3" cy="171.3" r="2.25"/><circle cx="591.9" cy="141.9" r="2.25"/><circle cx="617.2" cy="193.5" r="2.25"/><circle cx="608.3" cy="193.3" r="2.25"/><circle cx="544.1" cy="161.6" r="2.25"/><circle cx="602.8" cy="182.4" r="2.25"/><circle cx="570.6" cy="183.7" r="2.25"/><circle cx="545.4" cy="185.4" r="2.25"/><circle cx="631.1" cy="190.3" r="2.25"/><circle cx="608.0" cy="159.0" r="2.25"/><circle cx="534.5" cy="168.0" r="2.25"/><circle cx="557.6" cy="146.4" r="2.25"/><circle cx="563.0" cy="167.4" r="2.25"/><circle cx="541.5" cy="166.6" r="2.25"/><circle cx="588.1" cy="133.7" r="2.25"/><circle cx="567.1" cy="176.9" r="2.25"/><circle cx="564.4" cy="124.9" r="2.25"/><circle cx="551.0" cy="183.3" r="2.25"/><circle cx="554.7" cy="155.1" r="2.25"/><circle cx="549.0" cy="153.5" r="2.25"/><circle cx="557.5" cy="122.6" r="2.25"/><circle cx="585.5" cy="173.9" r="2.25"/><circle cx="545.6" cy="170.9" r="2.25"/><circle cx="560.6" cy="131.7" r="2.25"/><circle cx="573.0" cy="186.1" r="2.25"/><circle cx="589.9" cy="177.3" r="2.25"/><circle cx="606.7" cy="162.8" r="2.25"/><circle cx="635.2" cy="197.3" r="2.25"/><circle cx="535.5" cy="135.7" r="2.25"/><circle cx="532.3" cy="188.0" r="2.25"/><circle cx="565.4" cy="172.8" r="2.25"/><circle cx="572.2" cy="163.2" r="2.25"/><circle cx="606.1" cy="177.1" r="2.25"/><circle cx="622.0" cy="167.4" r="2.25"/><circle cx="612.6" cy="152.3" r="2.25"/><circle cx="574.0" cy="195.6" r="2.25"/><circle cx="631.6" cy="172.0" r="2.25"/><circle cx="609.8" cy="165.8" r="2.25"/><circle cx="560.8" cy="124.3" r="2.25"/><circle cx="611.6" cy="171.8" r="2.25"/><circle cx="541.5" cy="139.0" r="2.25"/><circle cx="628.1" cy="167.7" r="2.25"/><circle cx="648.7" cy="196.1" r="2.25"/><circle cx="539.4" cy="133.4" r="2.25"/><circle cx="561.1" cy="146.5" r="2.25"/><circle cx="535.5" cy="139.6" r="2.25"/><circle cx="532.6" cy="119.9" r="2.25"/><circle cx="632.5" cy="179.8" r="2.25"/><circle cx="624.1" cy="184.4" r="2.25"/><circle cx="533.6" cy="183.3" r="2.25"/><circle cx="596.8" cy="191.3" r="2.25"/><circle cx="614.7" cy="158.9" r="2.25"/><circle cx="559.4" cy="164.0" r="2.25"/><circle cx="599.1" cy="195.5" r="2.25"/><circle cx="571.1" cy="193.8" r="2.25"/><circle cx="614.3" cy="185.6" r="2.25"/><circle cx="550.7" cy="134.3" r="2.25"/><circle cx="544.9" cy="126.5" r="2.25"/><circle cx="617.1" cy="175.7" r="2.25"/><circle cx="545.5" cy="133.8" r="2.25"/><circle cx="545.3" cy="179.0" r="2.25"/><circle cx="557.0" cy="176.6" r="2.25"/><circle cx="601.7" cy="187.6" r="2.25"/><circle cx="617.7" cy="171.8" r="2.25"/><circle cx="633.2" cy="186.0" r="2.25"/><circle cx="535.4" cy="129.5" r="2.25"/><circle cx="542.3" cy="129.3" r="2.25"/><circle cx="589.9" cy="137.2" r="2.25"/><circle cx="555.2" cy="162.1" r="2.25"/><circle cx="556.2" cy="169.6" r="2.25"/><circle cx="574.1" cy="190.6" r="2.25"/><circle cx="619.3" cy="182.4" r="2.25"/><circle cx="570.6" cy="166.7" r="2.25"/><circle cx="536.5" cy="174.5" r="2.25"/><circle cx="581.6" cy="160.5" r="2.25"/><circle cx="574.9" cy="125.9" r="2.25"/><circle cx="546.4" cy="137.5" r="2.25"/><circle cx="538.1" cy="159.4" r="2.25"/><circle cx="635.6" cy="194.0" r="2.25"/><circle cx="557.2" cy="140.3" r="2.25"/><circle cx="581.3" cy="128.9" r="2.25"/><circle cx="586.6" cy="139.4" r="2.25"/><circle cx="639.3" cy="199.1" r="2.25"/><circle cx="551.9" cy="121.9" r="2.25"/><circle cx="541.5" cy="122.5" r="2.25"/><circle cx="581.0" cy="147.5" r="2.25"/><circle cx="560.3" cy="151.2" r="2.25"/><circle cx="569.2" cy="161.6" r="2.25"/><circle cx="586.0" cy="178.6" r="2.25"/><circle cx="590.7" cy="193.6" r="2.25"/><circle cx="539.3" cy="147.0" r="2.25"/><circle cx="620.9" cy="189.6" r="2.25"/><circle cx="613.2" cy="169.0" r="2.25"/><circle cx="592.2" cy="161.2" r="2.25"/><circle cx="629.1" cy="163.5" r="2.25"/><circle cx="594.3" cy="147.9" r="2.25"/><circle cx="573.2" cy="128.8" r="2.25"/><circle cx="545.2" cy="149.1" r="2.25"/><circle cx="549.0" cy="168.7" r="2.25"/><circle cx="597.4" cy="136.9" r="2.25"/><circle cx="603.8" cy="196.0" r="2.25"/><circle cx="610.5" cy="161.1" r="2.25"/><circle cx="560.5" cy="180.4" r="2.25"/><circle cx="547.2" cy="189.6" r="2.25"/><circle cx="612.8" cy="192.8" r="2.25"/><circle cx="593.6" cy="173.2" r="2.25"/><circle cx="626.4" cy="179.8" r="2.25"/><circle cx="555.0" cy="118.3" r="2.25"/><circle cx="540.4" cy="143.8" r="2.25"/><circle cx="541.7" cy="177.7" r="2.25"/><circle cx="561.7" cy="191.6" r="2.25"/><circle cx="568.9" cy="191.1" r="2.25"/><circle cx="610.5" cy="149.1" r="2.25"/><circle cx="638.2" cy="171.7" r="2.25"/><circle cx="551.2" cy="143.1" r="2.25"/><circle cx="532.3" cy="138.1" r="2.25"/><circle cx="624.3" cy="163.7" r="2.25"/><circle cx="594.8" cy="178.5" r="2.25"/><circle cx="596.6" cy="187.8" r="2.25"/><circle cx="627.3" cy="197.8" r="2.25"/><circle cx="567.2" cy="153.5" r="2.25"/><circle cx="577.5" cy="143.0" r="2.25"/><circle cx="536.3" cy="119.4" r="2.25"/><circle cx="549.2" cy="158.4" r="2.25"/><circle cx="565.0" cy="161.2" r="2.25"/><circle cx="540.5" cy="183.8" r="2.25"/><circle cx="567.9" cy="194.8" r="2.25"/><circle cx="537.3" cy="125.8" r="2.25"/><circle cx="534.6" cy="143.8" r="2.25"/><circle cx="601.0" cy="162.6" r="2.25"/><circle cx="637.8" cy="181.9" r="2.25"/><circle cx="561.6" cy="120.2" r="2.25"/><circle cx="574.2" cy="170.0" r="2.25"/><circle cx="575.8" cy="156.4" r="2.25"/><circle cx="581.3" cy="187.1" r="2.25"/><circle cx="631.1" cy="196.2" r="2.25"/><circle cx="554.8" cy="125.6" r="2.25"/><circle cx="643.5" cy="181.1" r="2.25"/><circle cx="616.8" cy="189.4" r="2.25"/><circle cx="600.0" cy="144.7" r="2.25"/><circle cx="576.9" cy="167.1" r="2.25"/><circle cx="616.0" cy="165.9" r="2.25"/><circle cx="621.9" cy="154.6" r="2.25"/><circle cx="624.7" cy="169.2" r="2.25"/><circle cx="595.6" cy="167.2" r="2.25"/><circle cx="626.7" cy="161.1" r="2.25"/><circle cx="568.1" cy="169.0" r="2.25"/><circle cx="588.7" cy="163.1" r="2.25"/><circle cx="568.3" cy="122.9" r="2.25"/><circle cx="548.4" cy="130.7" r="2.25"/><circle cx="632.2" cy="167.9" r="2.25"/><circle cx="543.3" cy="188.3" r="2.25"/><circle cx="606.1" cy="141.7" r="2.25"/><circle cx="532.6" cy="156.2" r="2.25"/><circle cx="558.2" cy="136.3" r="2.25"/><circle cx="621.1" cy="174.7" r="2.25"/><circle cx="576.0" cy="183.3" r="2.25"/><circle cx="557.6" cy="182.6" r="2.25"/><circle cx="584.2" cy="181.3" r="2.25"/><circle cx="585.0" cy="168.0" r="2.25"/><circle cx="645.3" cy="192.2" r="2.25"/><circle cx="540.5" cy="119.4" r="2.25"/><circle cx="595.4" cy="162.7" r="2.25"/><circle cx="606.4" cy="182.0" r="2.25"/><circle cx="626.3" cy="188.6" r="2.25"/><circle cx="585.1" cy="161.9" r="2.25"/><circle cx="561.6" cy="127.4" r="2.25"/><circle cx="611.9" cy="145.0" r="2.25"/><circle cx="593.5" cy="135.9" r="2.25"/><circle cx="582.1" cy="192.0" r="2.25"/><circle cx="550.3" cy="173.6" r="2.25"/><circle cx="601.4" cy="166.2" r="2.25"/><circle cx="571.8" cy="157.1" r="2.25"/><circle cx="533.0" cy="125.6" r="2.25"/><circle cx="560.8" cy="172.5" r="2.25"/><circle cx="569.2" cy="126.3" r="2.25"/><circle cx="622.7" cy="192.7" r="2.25"/><circle cx="628.6" cy="186.3" r="2.25"/><circle cx="573.3" cy="178.0" r="2.25"/><circle cx="579.3" cy="135.2" r="2.25"/><circle cx="571.4" cy="131.6" r="2.25"/><circle cx="617.9" cy="162.6" r="2.25"/><circle cx="565.5" cy="188.2" r="2.25"/><circle cx="550.9" cy="161.6" r="2.25"/><circle cx="579.2" cy="173.8" r="2.25"/><circle cx="579.6" cy="157.7" r="2.25"/><circle cx="573.6" cy="141.3" r="2.25"/><circle cx="554.9" cy="173.4" r="2.25"/><circle cx="606.4" cy="166.0" r="2.25"/><circle cx="564.3" cy="149.8" r="2.25"/><circle cx="615.0" cy="149.9" r="2.25"/><circle cx="545.9" cy="154.4" r="2.25"/><circle cx="598.3" cy="159.3" r="2.25"/><circle cx="631.3" cy="176.9" r="2.25"/><circle cx="622.1" cy="177.8" r="2.25"/><circle cx="582.1" cy="152.0" r="2.25"/><circle cx="586.0" cy="194.1" r="2.25"/><circle cx="598.9" cy="173.5" r="2.25"/><circle cx="549.4" cy="179.1" r="2.25"/><circle cx="651.2" cy="194.0" r="2.25"/><circle cx="563.9" cy="196.0" r="2.25"/><circle cx="596.3" cy="143.2" r="2.25"/><circle cx="575.4" cy="146.3" r="2.25"/><circle cx="591.9" cy="180.3" r="2.25"/><circle cx="619.2" cy="196.0" r="2.25"/><circle cx="584.7" cy="135.4" r="2.25"/><circle cx="635.4" cy="174.4" r="2.25"/><circle cx="533.9" cy="150.6" r="2.25"/><circle cx="595.0" cy="194.5" r="2.25"/><circle cx="603.7" cy="149.8" r="2.25"/><circle cx="590.0" cy="158.5" r="2.25"/><circle cx="557.3" cy="190.4" r="2.25"/><circle cx="595.9" cy="150.9" r="2.25"/><circle cx="558.0" cy="194.9" r="2.25"/><circle cx="593.6" cy="154.2" r="2.25"/><circle cx="565.7" cy="141.7" r="2.25"/><circle cx="601.9" cy="140.5" r="2.25"/><circle cx="539.2" cy="169.0" r="2.25"/><circle cx="547.4" cy="175.9" r="2.25"/><circle cx="591.0" cy="151.6" r="2.25"/><circle cx="613.8" cy="175.1" r="2.25"/><circle cx="558.4" cy="127.3" r="2.25"/><circle cx="618.4" cy="185.7" r="2.25"/><circle cx="635.3" cy="168.7" r="2.25"/><circle cx="548.9" cy="164.5" r="2.25"/><circle cx="565.2" cy="144.9" r="2.25"/><circle cx="543.2" cy="142.1" r="2.25"/><circle cx="610.5" cy="182.2" r="2.25"/><circle cx="590.2" cy="145.7" r="2.25"/><circle cx="557.4" cy="185.8" r="2.25"/><circle cx="577.0" cy="161.7" r="2.25"/><circle cx="593.6" cy="139.2" r="2.25"/><circle cx="623.9" cy="197.2" r="2.25"/><circle cx="566.9" cy="134.7" r="2.25"/><circle cx="564.7" cy="179.1" r="2.25"/><circle cx="640.2" cy="189.6" r="2.25"/><circle cx="535.4" cy="191.0" r="2.25"/><circle cx="591.5" cy="170.7" r="2.25"/><circle cx="606.5" cy="146.5" r="2.25"/><circle cx="567.3" cy="182.3" r="2.25"/><circle cx="532.0" cy="159.4" r="2.25"/><circle cx="636.9" cy="189.0" r="2.25"/><circle cx="614.6" cy="179.3" r="2.25"/><circle cx="563.4" cy="182.6" r="2.25"/><circle cx="551.4" cy="195.4" r="2.25"/><circle cx="561.1" cy="157.3" r="2.25"/><circle cx="532.6" cy="176.4" r="2.25"/><circle cx="552.5" cy="170.5" r="2.25"/><circle cx="543.4" cy="157.8" r="2.25"/><circle cx="556.2" cy="143.5" r="2.25"/><circle cx="609.3" cy="176.0" r="2.25"/><circle cx="581.0" cy="180.6" r="2.25"/><circle cx="565.5" cy="165.4" r="2.25"/><circle cx="596.3" cy="170.4" r="2.25"/><circle cx="534.2" cy="172.3" r="2.25"/><circle cx="552.6" cy="146.6" r="2.25"/><circle cx="584.0" cy="184.7" r="2.25"/><circle cx="624.8" cy="156.3" r="2.25"/><circle cx="619.2" cy="151.1" r="2.25"/><circle cx="579.9" cy="164.1" r="2.25"/><circle cx="610.3" cy="189.0" r="2.25"/><circle cx="549.5" cy="126.2" r="2.25"/><circle cx="637.8" cy="178.0" r="2.25"/><circle cx="568.9" cy="144.7" r="2.25"/><circle cx="547.3" cy="117.1" r="2.25"/><circle cx="564.8" cy="121.0" r="2.25"/><circle cx="548.9" cy="149.3" r="2.25"/><circle cx="542.2" cy="171.1" r="2.25"/><circle cx="592.1" cy="186.2" r="2.25"/><circle cx="586.0" cy="151.9" r="2.25"/><circle cx="587.0" cy="186.3" r="2.25"/><circle cx="554.5" cy="183.5" r="2.25"/><circle cx="556.6" cy="132.9" r="2.25"/><circle cx="579.5" cy="131.9" r="2.25"/><circle cx="597.2" cy="155.5" r="2.25"/><circle cx="538.8" cy="130.0" r="2.25"/><circle cx="626.8" cy="193.9" r="2.25"/><circle cx="552.9" cy="140.2" r="2.25"/><circle cx="558.3" cy="153.8" r="2.25"/><circle cx="602.4" cy="170.7" r="2.25"/><circle cx="540.6" cy="190.2" r="2.25"/><circle cx="627.3" cy="171.3" r="2.25"/><circle cx="582.9" cy="175.9" r="2.25"/><circle cx="546.8" cy="142.7" r="2.25"/><circle cx="554.2" cy="129.2" r="2.25"/><circle cx="560.2" cy="197.3" r="2.25"/><circle cx="559.8" cy="168.8" r="2.25"/><circle cx="551.0" cy="117.8" r="2.25"/><circle cx="538.7" cy="162.8" r="2.25"/><circle cx="544.7" cy="193.7" r="2.25"/><circle cx="599.0" cy="179.4" r="2.25"/><circle cx="570.6" cy="148.9" r="2.25"/><circle cx="640.3" cy="193.5" r="2.25"/><circle cx="550.2" cy="188.0" r="2.25"/><circle cx="577.1" cy="139.3" r="2.25"/><circle cx="562.3" cy="175.7" r="2.25"/><circle cx="565.1" cy="191.7" r="2.25"/><circle cx="541.4" cy="151.8" r="2.25"/><circle cx="585.7" cy="157.8" r="2.25"/><circle cx="537.8" cy="154.6" r="2.25"/><circle cx="648.9" cy="187.7" r="2.25"/><circle cx="599.5" cy="169.0" r="2.25"/><circle cx="598.3" cy="184.0" r="2.25"/><circle cx="576.3" cy="188.3" r="2.25"/><circle cx="558.6" cy="118.9" r="2.25"/><circle cx="563.5" cy="134.9" r="2.25"/><circle cx="532.4" cy="130.9" r="2.25"/><circle cx="581.7" cy="139.4" r="2.25"/><circle cx="553.0" cy="166.8" r="2.25"/><circle cx="590.6" cy="167.1" r="2.25"/><circle cx="569.6" cy="187.0" r="2.25"/><circle cx="575.9" cy="173.7" r="2.25"/><circle cx="538.5" cy="140.9" r="2.25"/><circle cx="604.5" cy="159.3" r="2.25"/><circle cx="603.3" cy="178.8" r="2.25"/><circle cx="621.7" cy="171.2" r="2.25"/><circle cx="548.1" cy="194.0" r="2.25"/><circle cx="553.0" cy="137.0" r="2.25"/><circle cx="612.2" cy="196.3" r="2.25"/><circle cx="602.7" cy="191.6" r="2.25"/><circle cx="579.2" cy="183.8" r="2.25"/><circle cx="553.1" cy="190.3" r="2.25"/><circle cx="556.9" cy="157.4" r="2.25"/><circle cx="630.3" cy="183.4" r="2.25"/><circle cx="593.8" cy="158.1" r="2.25"/><circle cx="538.1" cy="181.4" r="2.25"/><circle cx="566.8" cy="157.6" r="2.25"/><circle cx="614.6" cy="162.1" r="2.25"/><circle cx="581.1" cy="167.2" r="2.25"/><circle cx="615.6" cy="197.0" r="2.25"/><circle cx="610.3" cy="179.0" r="2.25"/><circle cx="544.0" cy="174.5" r="2.25"/><circle cx="594.9" cy="184.6" r="2.25"/><circle cx="565.0" cy="128.6" r="2.25"/><circle cx="538.4" cy="137.6" r="2.25"/><circle cx="568.6" cy="173.2" r="2.25"/><circle cx="583.2" cy="154.9" r="2.25"/><circle cx="598.2" cy="164.9" r="2.25"/><circle cx="577.2" cy="129.3" r="2.25"/><circle cx="569.6" cy="140.6" r="2.25"/><circle cx="597.5" cy="147.1" r="2.25"/><circle cx="577.5" cy="148.7" r="2.25"/><circle cx="608.3" cy="184.7" r="2.25"/><circle cx="532.1" cy="179.5" r="2.25"/><circle cx="586.8" cy="145.8" r="2.25"/><circle cx="587.7" cy="170.1" r="2.25"/><circle cx="569.7" cy="180.1" r="2.25"/><circle cx="607.0" cy="151.8" r="2.25"/><circle cx="609.7" cy="142.3" r="2.25"/><circle cx="603.9" cy="144.7" r="2.25"/><circle cx="551.9" cy="131.4" r="2.25"/><circle cx="545.9" cy="166.7" r="2.25"/><circle cx="574.5" cy="159.3" r="2.25"/><circle cx="642.9" cy="184.5" r="2.25"/><circle cx="588.8" cy="142.4" r="2.25"/><circle cx="536.2" cy="185.2" r="2.25"/><circle cx="555.9" cy="149.9" r="2.25"/><circle cx="532.2" cy="141.3" r="2.25"/><circle cx="612.8" cy="156.3" r="2.25"/><circle cx="535.7" cy="157.3" r="2.25"/><circle cx="534.7" cy="153.8" r="2.25"/><circle cx="596.3" cy="181.5" r="2.25"/><circle cx="574.1" cy="137.4" r="2.25"/><circle cx="643.3" cy="189.6" r="2.25"/><circle cx="543.3" cy="146.5" r="2.25"/><circle cx="549.9" cy="191.4" r="2.25"/><circle cx="570.3" cy="176.0" r="2.25"/><circle cx="540.7" cy="125.7" r="2.25"/><circle cx="536.7" cy="165.6" r="2.25"/><circle cx="615.8" cy="182.7" r="2.25"/><circle cx="578.8" cy="190.5" r="2.25"/><circle cx="532.0" cy="164.5" r="2.25"/><circle cx="640.9" cy="179.3" r="2.25"/><circle cx="622.2" cy="181.0" r="2.25"/><circle cx="561.4" cy="161.5" r="2.25"/><circle cx="556.4" cy="165.7" r="2.25"/><circle cx="630.5" cy="160.5" r="2.25"/><circle cx="546.0" cy="182.2" r="2.25"/><circle cx="561.0" cy="137.7" r="2.25"/><circle cx="608.5" cy="196.6" r="2.25"/><circle cx="553.8" cy="159.2" r="2.25"/><circle cx="646.5" cy="183.4" r="2.25"/><circle cx="543.1" cy="117.4" r="2.25"/><circle cx="537.7" cy="122.6" r="2.25"/><circle cx="600.8" cy="137.5" r="2.25"/><circle cx="619.2" cy="165.7" r="2.25"/><circle cx="609.3" cy="169.1" r="2.25"/><circle cx="649.7" cy="190.9" r="2.25"/><circle cx="634.6" cy="183.0" r="2.25"/><circle cx="627.7" cy="176.5" r="2.25"/><circle cx="584.1" cy="171.0" r="2.25"/><circle cx="617.8" cy="178.8" r="2.25"/><circle cx="547.6" cy="161.3" r="2.25"/><circle cx="532.1" cy="134.7" r="2.25"/><circle cx="584.0" cy="189.4" r="2.25"/><circle cx="598.7" cy="140.8" r="2.25"/><circle cx="542.6" cy="181.1" r="2.25"/><circle cx="592.8" cy="164.8" r="2.25"/><circle cx="615.2" cy="146.4" r="2.25"/><circle cx="570.4" cy="153.8" r="2.25"/><circle cx="643.4" cy="194.8" r="2.25"/><circle cx="597.2" cy="176.4" r="2.25"/><circle cx="538.3" cy="151.0" r="2.25"/><circle cx="613.5" cy="188.8" r="2.25"/><circle cx="554.4" cy="110.1" r="2.25"/><circle cx="540.2" cy="98.2" r="2.25"/><circle cx="545.8" cy="108.1" r="2.25"/><circle cx="538.4" cy="120.0" r="2.25"/><circle cx="535.0" cy="112.9" r="2.25"/><circle cx="541.5" cy="111.9" r="2.25"/><circle cx="560.2" cy="119.6" r="2.25"/><circle cx="549.6" cy="116.2" r="2.25"/><circle cx="545.5" cy="118.5" r="2.25"/><circle cx="546.6" cy="112.8" r="2.25"/><circle cx="535.9" cy="101.5" r="2.25"/><circle cx="545.0" cy="103.2" r="2.25"/><circle cx="533.9" cy="119.0" r="2.25"/><circle cx="569.0" cy="121.6" r="2.25"/><circle cx="552.8" cy="120.3" r="2.25"/><circle cx="536.1" cy="95.1" r="2.25"/><circle cx="564.6" cy="121.1" r="2.25"/><circle cx="539.1" cy="107.8" r="2.25"/><circle cx="534.0" cy="106.9" r="2.25"/><circle cx="552.1" cy="104.5" r="2.25"/><circle cx="556.4" cy="114.8" r="2.25"/><circle cx="564.6" cy="115.5" r="2.25"/><circle cx="556.8" cy="122.3" r="2.25"/><circle cx="542.3" cy="122.1" r="2.25"/><circle cx="573.4" cy="123.9" r="2.25"/><circle cx="546.4" cy="98.6" r="2.25"/><circle cx="548.3" cy="122.0" r="2.25"/><circle cx="540.5" cy="116.3" r="2.25"/><circle cx="559.7" cy="111.0" r="2.25"/><circle cx="549.9" cy="109.7" r="2.25"/><circle cx="540.5" cy="103.1" r="2.25"/><circle cx="532.8" cy="98.4" r="2.25"/></g>
<path d="M365.8 4.95H506.9V276.2" fill="none" stroke="#9a9a9a" stroke-width="1.8"/>
<line x1="365.8" y1="4.05" x2="365.8" y2="277.09999999999997" stroke="#a8a8a8" stroke-width="1.8"/>
<line x1="363.3" y1="276.2" x2="506.9" y2="276.2" stroke="#8a8a8a" stroke-width="1.6"/>
<line x1="363.0" y1="4.95" x2="365.8" y2="4.95" stroke="#888" stroke-width="1.8"/>
<line x1="363.2" y1="276.20" x2="365.3" y2="276.20" stroke="#333" stroke-width="1.1"/>
<line x1="363.2" y1="235.37" x2="365.3" y2="235.37" stroke="#333" stroke-width="1.1"/>
<line x1="363.2" y1="211.49" x2="365.3" y2="211.49" stroke="#333" stroke-width="1.1"/>
<line x1="363.2" y1="194.55" x2="365.3" y2="194.55" stroke="#333" stroke-width="1.1"/>
<line x1="363.2" y1="181.40" x2="365.3" y2="181.40" stroke="#333" stroke-width="1.1"/>
<line x1="363.2" y1="170.66" x2="365.3" y2="170.66" stroke="#333" stroke-width="1.1"/>
<line x1="363.2" y1="161.58" x2="365.3" y2="161.58" stroke="#333" stroke-width="1.1"/>
<line x1="363.2" y1="153.72" x2="365.3" y2="153.72" stroke="#333" stroke-width="1.1"/>
<line x1="363.2" y1="146.78" x2="365.3" y2="146.78" stroke="#333" stroke-width="1.1"/>
<line x1="363.2" y1="140.57" x2="365.3" y2="140.57" stroke="#333" stroke-width="1.1"/>
<line x1="363.2" y1="99.75" x2="365.3" y2="99.75" stroke="#333" stroke-width="1.1"/>
<line x1="363.2" y1="75.87" x2="365.3" y2="75.87" stroke="#333" stroke-width="1.1"/>
<line x1="363.2" y1="58.92" x2="365.3" y2="58.92" stroke="#333" stroke-width="1.1"/>
<line x1="363.2" y1="45.78" x2="365.3" y2="45.78" stroke="#333" stroke-width="1.1"/>
<line x1="363.2" y1="35.04" x2="365.3" y2="35.04" stroke="#333" stroke-width="1.1"/>
<line x1="363.2" y1="25.96" x2="365.3" y2="25.96" stroke="#333" stroke-width="1.1"/>
<line x1="363.2" y1="18.09" x2="365.3" y2="18.09" stroke="#333" stroke-width="1.1"/>
<line x1="363.2" y1="11.16" x2="365.3" y2="11.16" stroke="#333" stroke-width="1.1"/>
<line x1="365.80" y1="276.9" x2="365.80" y2="279.4" stroke="#333" stroke-width="1.1"/>
<line x1="375.21" y1="276.9" x2="375.21" y2="279.4" stroke="#333" stroke-width="1.1"/>
<line x1="384.61" y1="276.9" x2="384.61" y2="279.4" stroke="#333" stroke-width="1.1"/>
<line x1="394.02" y1="276.9" x2="394.02" y2="279.4" stroke="#333" stroke-width="1.1"/>
<line x1="403.43" y1="276.9" x2="403.43" y2="279.4" stroke="#333" stroke-width="1.1"/>
<line x1="412.83" y1="276.9" x2="412.83" y2="279.4" stroke="#333" stroke-width="1.1"/>
<line x1="422.24" y1="276.9" x2="422.24" y2="279.4" stroke="#333" stroke-width="1.1"/>
<line x1="431.65" y1="276.9" x2="431.65" y2="279.4" stroke="#333" stroke-width="1.1"/>
<line x1="441.05" y1="276.9" x2="441.05" y2="279.4" stroke="#333" stroke-width="1.1"/>
<line x1="450.46" y1="276.9" x2="450.46" y2="279.4" stroke="#333" stroke-width="1.1"/>
<line x1="459.87" y1="276.9" x2="459.87" y2="279.4" stroke="#333" stroke-width="1.1"/>
<line x1="469.27" y1="276.9" x2="469.27" y2="279.4" stroke="#333" stroke-width="1.1"/>
<line x1="478.68" y1="276.9" x2="478.68" y2="279.4" stroke="#333" stroke-width="1.1"/>
<line x1="488.09" y1="276.9" x2="488.09" y2="279.4" stroke="#333" stroke-width="1.1"/>
<line x1="497.49" y1="276.9" x2="497.49" y2="279.4" stroke="#333" stroke-width="1.1"/>
<line x1="506.90" y1="276.9" x2="506.90" y2="279.4" stroke="#333" stroke-width="1.1"/>
<path d="M531.5 4.95H675.5V272.5" fill="none" stroke="#8e8e8e" stroke-width="1.8"/>
<line x1="529.0" y1="272.5" x2="675.5" y2="272.5" stroke="#777" stroke-width="1.5"/>
<line x1="531.5" y1="4.05" x2="531.5" y2="273.3" stroke="#555" stroke-width="1.4"/>
<line x1="528.7" y1="4.95" x2="531.5" y2="4.95" stroke="#888" stroke-width="1.8"/>
<line x1="528.9" y1="272.50" x2="531.0" y2="272.50" stroke="#333" stroke-width="1.1"/>
<line x1="528.9" y1="210.59" x2="531.0" y2="210.59" stroke="#333" stroke-width="1.1"/>
<line x1="528.9" y1="174.38" x2="531.0" y2="174.38" stroke="#333" stroke-width="1.1"/>
<line x1="528.9" y1="148.69" x2="531.0" y2="148.69" stroke="#333" stroke-width="1.1"/>
<line x1="528.9" y1="128.76" x2="531.0" y2="128.76" stroke="#333" stroke-width="1.1"/>
<line x1="528.9" y1="112.48" x2="531.0" y2="112.48" stroke="#333" stroke-width="1.1"/>
<line x1="528.9" y1="98.71" x2="531.0" y2="98.71" stroke="#333" stroke-width="1.1"/>
<line x1="528.9" y1="86.78" x2="531.0" y2="86.78" stroke="#333" stroke-width="1.1"/>
<line x1="528.9" y1="76.27" x2="531.0" y2="76.27" stroke="#333" stroke-width="1.1"/>
<line x1="528.9" y1="66.86" x2="531.0" y2="66.86" stroke="#333" stroke-width="1.1"/>
<line x1="528.9" y1="4.95" x2="531.0" y2="4.95" stroke="#333" stroke-width="1.1"/>
<line x1="531.50" y1="273.2" x2="531.50" y2="275.5" stroke="#333" stroke-width="1.1"/>
<line x1="541.10" y1="273.2" x2="541.10" y2="275.5" stroke="#333" stroke-width="1.1"/>
<line x1="550.70" y1="273.2" x2="550.70" y2="275.5" stroke="#333" stroke-width="1.1"/>
<line x1="560.30" y1="273.2" x2="560.30" y2="275.5" stroke="#333" stroke-width="1.1"/>
<line x1="569.90" y1="273.2" x2="569.90" y2="275.5" stroke="#333" stroke-width="1.1"/>
<line x1="579.50" y1="273.2" x2="579.50" y2="275.5" stroke="#333" stroke-width="1.1"/>
<line x1="589.10" y1="273.2" x2="589.10" y2="275.5" stroke="#333" stroke-width="1.1"/>
<line x1="598.70" y1="273.2" x2="598.70" y2="275.5" stroke="#333" stroke-width="1.1"/>
<line x1="608.30" y1="273.2" x2="608.30" y2="275.5" stroke="#333" stroke-width="1.1"/>
<line x1="617.90" y1="273.2" x2="617.90" y2="275.5" stroke="#333" stroke-width="1.1"/>
<line x1="627.50" y1="273.2" x2="627.50" y2="275.5" stroke="#333" stroke-width="1.1"/>
<line x1="637.10" y1="273.2" x2="637.10" y2="275.5" stroke="#333" stroke-width="1.1"/>
<line x1="646.70" y1="273.2" x2="646.70" y2="275.5" stroke="#333" stroke-width="1.1"/>
<line x1="656.30" y1="273.2" x2="656.30" y2="275.5" stroke="#333" stroke-width="1.1"/>
<line x1="665.90" y1="273.2" x2="665.90" y2="275.5" stroke="#333" stroke-width="1.1"/>
<line x1="675.50" y1="273.2" x2="675.50" y2="275.5" stroke="#333" stroke-width="1.1"/>
<text x="361" y="7.7" font-size="10" text-anchor="end" fill="#222">100</text>
<text x="360" y="143.4" font-size="10" text-anchor="end" fill="#222">10</text>
<text x="358.9" y="278.9" font-size="10" text-anchor="end" fill="#222">1</text>
<text x="366.6" y="290.7" font-size="10" letter-spacing="0.3" text-anchor="middle" fill="#222">0</text>
<text x="413.6" y="290.7" font-size="10" letter-spacing="0.3" text-anchor="middle" fill="#222">200</text>
<text x="460.7" y="290.7" font-size="10" letter-spacing="0.3" text-anchor="middle" fill="#222">400</text>
<text x="507.7" y="290.7" font-size="10" letter-spacing="0.3" text-anchor="middle" fill="#222">600</text>
<text x="522.9" y="70.2" font-size="10" text-anchor="end" fill="#222">10</text>
<text x="521" y="275.2" font-size="10" text-anchor="end" fill="#222">1</text>
<text x="532.1" y="287" font-size="10" letter-spacing="0.3" text-anchor="middle" fill="#222">0</text>
<text x="580.1" y="287" font-size="10" letter-spacing="0.3" text-anchor="middle" fill="#222">200</text>
<text x="628.1" y="287" font-size="10" letter-spacing="0.3" text-anchor="middle" fill="#222">400</text>
<text x="676.1" y="287" font-size="10" letter-spacing="0.3" text-anchor="middle" fill="#222">600</text>
<text x="378.1" y="23.8" font-size="10.4" letter-spacing="0.1" fill="#333">Nd (μg/g)</text>
<text x="540.3" y="24" font-size="10.5" letter-spacing="0.15" fill="#333">Yb (μg/g)</text>
<text x="369.3" y="272.6" font-size="10.5" letter-spacing="0.1" fill="#333">Cr (μg/g)</text>
<text x="534" y="268.2" font-size="10.5" letter-spacing="0.1" fill="#333">Cr (μg/g)</text>
<text x="486.4" y="15.9" font-size="11" fill="#222">B</text>
<text x="653.3" y="15.9" font-size="11" fill="#222">C</text>
<rect x="23.5" y="7.5" width="311.0" height="260.0" fill="none" stroke="#444" stroke-width="1"/>
<line x1="20.7" y1="267.49" x2="23.5" y2="267.49" stroke="#3c3c3c" stroke-width="1"/>
<line x1="20.7" y1="240.55" x2="23.5" y2="240.55" stroke="#3c3c3c" stroke-width="1"/>
<line x1="20.7" y1="221.43" x2="23.5" y2="221.43" stroke="#3c3c3c" stroke-width="1"/>
<line x1="20.7" y1="206.60" x2="23.5" y2="206.60" stroke="#3c3c3c" stroke-width="1"/>
<line x1="20.7" y1="194.48" x2="23.5" y2="194.48" stroke="#3c3c3c" stroke-width="1"/>
<line x1="20.7" y1="184.23" x2="23.5" y2="184.23" stroke="#3c3c3c" stroke-width="1"/>
<line x1="20.7" y1="175.36" x2="23.5" y2="175.36" stroke="#3c3c3c" stroke-width="1"/>
<line x1="20.7" y1="167.53" x2="23.5" y2="167.53" stroke="#3c3c3c" stroke-width="1"/>
<line x1="20.7" y1="114.46" x2="23.5" y2="114.46" stroke="#3c3c3c" stroke-width="1"/>
<line x1="20.7" y1="87.52" x2="23.5" y2="87.52" stroke="#3c3c3c" stroke-width="1"/>
<line x1="20.7" y1="68.40" x2="23.5" y2="68.40" stroke="#3c3c3c" stroke-width="1"/>
<line x1="20.7" y1="53.57" x2="23.5" y2="53.57" stroke="#3c3c3c" stroke-width="1"/>
<line x1="20.7" y1="41.45" x2="23.5" y2="41.45" stroke="#3c3c3c" stroke-width="1"/>
<line x1="20.7" y1="31.20" x2="23.5" y2="31.20" stroke="#3c3c3c" stroke-width="1"/>
<line x1="20.7" y1="22.33" x2="23.5" y2="22.33" stroke="#3c3c3c" stroke-width="1"/>
<line x1="20.7" y1="14.50" x2="23.5" y2="14.50" stroke="#3c3c3c" stroke-width="1"/>
<line x1="20.7" y1="160.53" x2="23.5" y2="160.53" stroke="#3c3c3c" stroke-width="1"/>
<line x1="23.50" y1="267.5" x2="23.50" y2="270.7" stroke="#3c3c3c" stroke-width="1"/>
<line x1="39.05" y1="267.5" x2="39.05" y2="270.7" stroke="#3c3c3c" stroke-width="1"/>
<line x1="54.60" y1="267.5" x2="54.60" y2="270.7" stroke="#3c3c3c" stroke-width="1"/>
<line x1="70.15" y1="267.5" x2="70.15" y2="270.7" stroke="#3c3c3c" stroke-width="1"/>
<line x1="85.70" y1="267.5" x2="85.70" y2="270.7" stroke="#3c3c3c" stroke-width="1"/>
<line x1="101.25" y1="267.5" x2="101.25" y2="270.7" stroke="#3c3c3c" stroke-width="1"/>
<line x1="116.80" y1="267.5" x2="116.80" y2="270.7" stroke="#3c3c3c" stroke-width="1"/>
<line x1="132.35" y1="267.5" x2="132.35" y2="270.7" stroke="#3c3c3c" stroke-width="1"/>
<line x1="147.90" y1="267.5" x2="147.90" y2="270.7" stroke="#3c3c3c" stroke-width="1"/>
<line x1="163.45" y1="267.5" x2="163.45" y2="270.7" stroke="#3c3c3c" stroke-width="1"/>
<line x1="179.00" y1="267.5" x2="179.00" y2="270.7" stroke="#3c3c3c" stroke-width="1"/>
<line x1="194.55" y1="267.5" x2="194.55" y2="270.7" stroke="#3c3c3c" stroke-width="1"/>
<line x1="210.10" y1="267.5" x2="210.10" y2="270.7" stroke="#3c3c3c" stroke-width="1"/>
<line x1="225.65" y1="267.5" x2="225.65" y2="270.7" stroke="#3c3c3c" stroke-width="1"/>
<line x1="241.20" y1="267.5" x2="241.20" y2="270.7" stroke="#3c3c3c" stroke-width="1"/>
<line x1="256.75" y1="267.5" x2="256.75" y2="270.7" stroke="#3c3c3c" stroke-width="1"/>
<line x1="272.30" y1="267.5" x2="272.30" y2="270.7" stroke="#3c3c3c" stroke-width="1"/>
<line x1="287.85" y1="267.5" x2="287.85" y2="270.7" stroke="#3c3c3c" stroke-width="1"/>
<line x1="303.40" y1="267.5" x2="303.40" y2="270.7" stroke="#3c3c3c" stroke-width="1"/>
<line x1="318.95" y1="267.5" x2="318.95" y2="270.7" stroke="#3c3c3c" stroke-width="1"/>
<line x1="334.50" y1="267.5" x2="334.50" y2="270.7" stroke="#3c3c3c" stroke-width="1"/>
<text x="20.1" y="10.9" font-size="10" text-anchor="end" fill="#222">10.0</text>
<text x="18.6" y="163.6" font-size="10" text-anchor="end" fill="#222">1.0</text>
<text x="20" y="270.4" font-size="10" letter-spacing="0.6" text-anchor="end" fill="#222">0.2</text>
<text x="24.4" y="284" font-size="10.3" text-anchor="middle" fill="#222">Th</text>
<text x="39.9" y="284" font-size="10.3" text-anchor="middle" fill="#222">Nb</text>
<text x="55.5" y="284" font-size="10.3" text-anchor="middle" fill="#222">Ta</text>
<text x="71.1" y="284" font-size="10.3" text-anchor="middle" fill="#222">La</text>
<text x="86.6" y="284" font-size="10.3" text-anchor="middle" fill="#222">Ce</text>
<text x="102.2" y="284" font-size="10.3" text-anchor="middle" fill="#222">Pr</text>
<text x="117.7" y="284" font-size="10.3" text-anchor="middle" fill="#222">Nd</text>
<text x="133.2" y="284" font-size="10.3" text-anchor="middle" fill="#222">Zr</text>
<text x="148.8" y="284" font-size="10.3" text-anchor="middle" fill="#222">Hf</text>
<text x="164.3" y="284" font-size="10.3" text-anchor="middle" fill="#222">Sm</text>
<text x="179.9" y="284" font-size="10.3" text-anchor="middle" fill="#222">Eu</text>
<text x="195.5" y="284" font-size="10.3" text-anchor="middle" fill="#222">Ti</text>
<text x="211.0" y="284" font-size="10.3" text-anchor="middle" fill="#222">Gd</text>
<text x="226.6" y="284" font-size="10.3" text-anchor="middle" fill="#222">Tb</text>
<text x="242.1" y="284" font-size="10.3" text-anchor="middle" fill="#222">Dy</text>
<text x="257.6" y="284" font-size="10.3" text-anchor="middle" fill="#222">Y</text>
<text x="273.2" y="284" font-size="10.3" text-anchor="middle" fill="#222">Ho</text>
<text x="288.8" y="284" font-size="10.3" text-anchor="middle" fill="#222">Er</text>
<text x="304.3" y="284" font-size="10.3" text-anchor="middle" fill="#222">Tm</text>
<text x="319.8" y="284" font-size="10.3" text-anchor="middle" fill="#222">Yb</text>
<text x="335.4" y="284" font-size="10.3" text-anchor="middle" fill="#222">Lu</text>
<text transform="translate(13.8,84.4) rotate(-90)" font-size="13" text-anchor="middle" fill="#333">Rock/Primitive mantle</text>
<text x="32.3" y="18.7" font-size="12" fill="#222">A</text>
<polyline points="23.5,115.5 39.0,74.5 54.6,59.1 70.2,56.2 85.7,42.0 101.2,34.0 116.8,25.2 132.3,15.8 147.9,21.4 163.4,21.6 179.0,23.9 194.6,25.8 210.1,21.0 225.7,20.1 241.2,21.0 256.8,24.6 272.3,22.2 287.9,23.1 303.4,25.3 318.9,26.7 334.5,27.7" fill="none" stroke="#5c5c5c" stroke-width="3.3" stroke-linejoin="miter"/>
<polyline points="23.5,253.2 39.0,212.5 54.6,184.4 70.2,185.6 85.7,170.5 101.2,152.0 116.8,134.0 132.3,141.4 147.9,125.0 163.4,111.3 179.0,103.1 194.6,105.7 210.1,96.1 225.7,88.4 241.2,87.2 256.8,84.4 272.3,82.5 287.9,80.8 303.4,78.9 318.9,79.3 334.5,75.7" fill="none" stroke="#b3479a" stroke-width="1.8"/>
<polyline points="23.5,191.2 39.0,165.6 54.6,147.6 70.2,137.7 85.7,125.7 101.2,114.3 116.8,103.2 132.3,114.3 147.9,102.0 163.4,88.4 179.0,83.2 194.6,94.0 210.1,78.1 225.7,72.4 241.2,71.2 256.8,71.2 272.3,68.2 287.9,67.5 303.4,64.7 318.9,66.9 334.5,64.7" fill="none" stroke="#00994a" stroke-width="2.0"/>
<polyline points="23.5,177.2 39.0,146.0 54.6,130.0 70.2,114.5 85.7,109.6 101.2,94.6 116.8,80.0 132.3,68.5 147.9,59.5 163.4,62.2 179.0,56.8 194.6,54.1 210.1,58.2 225.7,47.6 241.2,43.8 256.8,44.7 272.3,42.2 287.9,40.3 303.4,38.5 318.9,37.8 334.5,37.3" fill="none" stroke="#00994a" stroke-width="2.0"/>
<polyline points="23.5,117.6 39.0,92.3 54.6,63.6 70.2,67.3 85.7,59.5 101.2,55.3 116.8,48.0 132.3,63.3 147.9,47.1 163.4,44.2 179.0,42.0 194.6,51.2 210.1,38.0 225.7,36.8 241.2,35.1 256.8,40.6 272.3,36.3 287.9,30.8 303.4,32.9 318.9,30.9 334.5,31.6" fill="none" stroke="#e5202a" stroke-width="1.6"/>
<path d="M23.5 250.5L26.2 253.2L23.5 255.9L20.8 253.2Z" fill="#b3479a" stroke="#2a2a2a" stroke-width="0.8"/>
<path d="M39.0 209.8L41.8 212.5L39.0 215.2L36.3 212.5Z" fill="#b3479a" stroke="#2a2a2a" stroke-width="0.8"/>
<path d="M54.6 181.7L57.3 184.4L54.6 187.1L51.9 184.4Z" fill="#b3479a" stroke="#2a2a2a" stroke-width="0.8"/>
<path d="M70.2 182.9L72.9 185.6L70.2 188.3L67.5 185.6Z" fill="#b3479a" stroke="#2a2a2a" stroke-width="0.8"/>
<path d="M85.7 167.8L88.4 170.5L85.7 173.2L83.0 170.5Z" fill="#b3479a" stroke="#2a2a2a" stroke-width="0.8"/>
<path d="M101.2 149.3L104.0 152.0L101.2 154.7L98.5 152.0Z" fill="#b3479a" stroke="#2a2a2a" stroke-width="0.8"/>
<path d="M116.8 131.3L119.5 134.0L116.8 136.7L114.1 134.0Z" fill="#b3479a" stroke="#2a2a2a" stroke-width="0.8"/>
<path d="M132.3 138.7L135.0 141.4L132.3 144.1L129.7 141.4Z" fill="#b3479a" stroke="#2a2a2a" stroke-width="0.8"/>
<path d="M147.9 122.3L150.6 125.0L147.9 127.7L145.2 125.0Z" fill="#b3479a" stroke="#2a2a2a" stroke-width="0.8"/>
<path d="M163.4 108.6L166.1 111.3L163.4 114.0L160.8 111.3Z" fill="#b3479a" stroke="#2a2a2a" stroke-width="0.8"/>
<path d="M179.0 100.4L181.7 103.1L179.0 105.8L176.3 103.1Z" fill="#b3479a" stroke="#2a2a2a" stroke-width="0.8"/>
<path d="M194.6 103.0L197.2 105.7L194.6 108.4L191.9 105.7Z" fill="#b3479a" stroke="#2a2a2a" stroke-width="0.8"/>
<path d="M210.1 93.4L212.8 96.1L210.1 98.8L207.4 96.1Z" fill="#b3479a" stroke="#2a2a2a" stroke-width="0.8"/>
<path d="M225.7 85.7L228.3 88.4L225.7 91.1L223.0 88.4Z" fill="#b3479a" stroke="#2a2a2a" stroke-width="0.8"/>
<path d="M241.2 84.5L243.9 87.2L241.2 89.9L238.5 87.2Z" fill="#b3479a" stroke="#2a2a2a" stroke-width="0.8"/>
<path d="M256.8 81.7L259.4 84.4L256.8 87.1L254.1 84.4Z" fill="#b3479a" stroke="#2a2a2a" stroke-width="0.8"/>
<path d="M272.3 79.8L275.0 82.5L272.3 85.2L269.6 82.5Z" fill="#b3479a" stroke="#2a2a2a" stroke-width="0.8"/>
<path d="M287.9 78.1L290.6 80.8L287.9 83.5L285.2 80.8Z" fill="#b3479a" stroke="#2a2a2a" stroke-width="0.8"/>
<path d="M303.4 76.2L306.1 78.9L303.4 81.6L300.7 78.9Z" fill="#b3479a" stroke="#2a2a2a" stroke-width="0.8"/>
<path d="M318.9 76.6L321.6 79.3L318.9 82.0L316.2 79.3Z" fill="#b3479a" stroke="#2a2a2a" stroke-width="0.8"/>
<path d="M334.5 73.0L337.2 75.7L334.5 78.4L331.8 75.7Z" fill="#b3479a" stroke="#2a2a2a" stroke-width="0.8"/>
<path d="M23.5 187.7L27.0 191.2L23.5 194.7L20.0 191.2Z" fill="#0a9a4c" stroke="#2a2a2a" stroke-width="0.8"/>
<path d="M39.0 162.1L42.5 165.6L39.0 169.1L35.5 165.6Z" fill="#0a9a4c" stroke="#2a2a2a" stroke-width="0.8"/>
<path d="M54.6 144.1L58.1 147.6L54.6 151.1L51.1 147.6Z" fill="#0a9a4c" stroke="#2a2a2a" stroke-width="0.8"/>
<path d="M70.2 134.2L73.7 137.7L70.2 141.2L66.7 137.7Z" fill="#0a9a4c" stroke="#2a2a2a" stroke-width="0.8"/>
<path d="M85.7 122.2L89.2 125.7L85.7 129.2L82.2 125.7Z" fill="#0a9a4c" stroke="#2a2a2a" stroke-width="0.8"/>
<path d="M101.2 110.8L104.8 114.3L101.2 117.8L97.8 114.3Z" fill="#0a9a4c" stroke="#2a2a2a" stroke-width="0.8"/>
<path d="M116.8 99.7L120.3 103.2L116.8 106.7L113.3 103.2Z" fill="#0a9a4c" stroke="#2a2a2a" stroke-width="0.8"/>
<path d="M132.3 110.8L135.8 114.3L132.3 117.8L128.8 114.3Z" fill="#0a9a4c" stroke="#2a2a2a" stroke-width="0.8"/>
<path d="M147.9 98.5L151.4 102.0L147.9 105.5L144.4 102.0Z" fill="#0a9a4c" stroke="#2a2a2a" stroke-width="0.8"/>
<path d="M163.4 84.9L166.9 88.4L163.4 91.9L159.9 88.4Z" fill="#0a9a4c" stroke="#2a2a2a" stroke-width="0.8"/>
<path d="M179.0 79.7L182.5 83.2L179.0 86.7L175.5 83.2Z" fill="#0a9a4c" stroke="#2a2a2a" stroke-width="0.8"/>
<path d="M194.6 90.5L198.1 94.0L194.6 97.5L191.1 94.0Z" fill="#0a9a4c" stroke="#2a2a2a" stroke-width="0.8"/>
<path d="M210.1 74.6L213.6 78.1L210.1 81.6L206.6 78.1Z" fill="#0a9a4c" stroke="#2a2a2a" stroke-width="0.8"/>
<path d="M225.7 68.9L229.2 72.4L225.7 75.9L222.2 72.4Z" fill="#0a9a4c" stroke="#2a2a2a" stroke-width="0.8"/>
<path d="M241.2 67.7L244.7 71.2L241.2 74.7L237.7 71.2Z" fill="#0a9a4c" stroke="#2a2a2a" stroke-width="0.8"/>
<path d="M256.8 67.7L260.2 71.2L256.8 74.7L253.2 71.2Z" fill="#0a9a4c" stroke="#2a2a2a" stroke-width="0.8"/>
<path d="M272.3 64.7L275.8 68.2L272.3 71.7L268.8 68.2Z" fill="#0a9a4c" stroke="#2a2a2a" stroke-width="0.8"/>
<path d="M287.9 64.0L291.4 67.5L287.9 71.0L284.4 67.5Z" fill="#0a9a4c" stroke="#2a2a2a" stroke-width="0.8"/>
<path d="M303.4 61.2L306.9 64.7L303.4 68.2L299.9 64.7Z" fill="#0a9a4c" stroke="#2a2a2a" stroke-width="0.8"/>
<path d="M318.9 63.4L322.4 66.9L318.9 70.4L315.4 66.9Z" fill="#0a9a4c" stroke="#2a2a2a" stroke-width="0.8"/>
<path d="M334.5 61.2L338.0 64.7L334.5 68.2L331.0 64.7Z" fill="#0a9a4c" stroke="#2a2a2a" stroke-width="0.8"/>
<path d="M23.5 173.7L27.0 177.2L23.5 180.7L20.0 177.2Z" fill="#0a9a4c" stroke="#2a2a2a" stroke-width="0.8"/>
<path d="M39.0 142.5L42.5 146.0L39.0 149.5L35.5 146.0Z" fill="#0a9a4c" stroke="#2a2a2a" stroke-width="0.8"/>
<path d="M54.6 126.5L58.1 130.0L54.6 133.5L51.1 130.0Z" fill="#0a9a4c" stroke="#2a2a2a" stroke-width="0.8"/>
<path d="M70.2 111.0L73.7 114.5L70.2 118.0L66.7 114.5Z" fill="#0a9a4c" stroke="#2a2a2a" stroke-width="0.8"/>
<path d="M85.7 106.1L89.2 109.6L85.7 113.1L82.2 109.6Z" fill="#0a9a4c" stroke="#2a2a2a" stroke-width="0.8"/>
<path d="M101.2 91.1L104.8 94.6L101.2 98.1L97.8 94.6Z" fill="#0a9a4c" stroke="#2a2a2a" stroke-width="0.8"/>
<path d="M116.8 76.5L120.3 80.0L116.8 83.5L113.3 80.0Z" fill="#0a9a4c" stroke="#2a2a2a" stroke-width="0.8"/>
<path d="M132.3 65.0L135.8 68.5L132.3 72.0L128.8 68.5Z" fill="#0a9a4c" stroke="#2a2a2a" stroke-width="0.8"/>
<path d="M147.9 56.0L151.4 59.5L147.9 63.0L144.4 59.5Z" fill="#0a9a4c" stroke="#2a2a2a" stroke-width="0.8"/>
<path d="M163.4 58.7L166.9 62.2L163.4 65.7L159.9 62.2Z" fill="#0a9a4c" stroke="#2a2a2a" stroke-width="0.8"/>
<path d="M179.0 53.3L182.5 56.8L179.0 60.3L175.5 56.8Z" fill="#0a9a4c" stroke="#2a2a2a" stroke-width="0.8"/>
<path d="M194.6 50.6L198.1 54.1L194.6 57.6L191.1 54.1Z" fill="#0a9a4c" stroke="#2a2a2a" stroke-width="0.8"/>
<path d="M210.1 54.7L213.6 58.2L210.1 61.7L206.6 58.2Z" fill="#0a9a4c" stroke="#2a2a2a" stroke-width="0.8"/>
<path d="M225.7 44.1L229.2 47.6L225.7 51.1L222.2 47.6Z" fill="#0a9a4c" stroke="#2a2a2a" stroke-width="0.8"/>
<path d="M241.2 40.3L244.7 43.8L241.2 47.3L237.7 43.8Z" fill="#0a9a4c" stroke="#2a2a2a" stroke-width="0.8"/>
<path d="M256.8 41.2L260.2 44.7L256.8 48.2L253.2 44.7Z" fill="#0a9a4c" stroke="#2a2a2a" stroke-width="0.8"/>
<path d="M272.3 38.7L275.8 42.2L272.3 45.7L268.8 42.2Z" fill="#0a9a4c" stroke="#2a2a2a" stroke-width="0.8"/>
<path d="M287.9 36.8L291.4 40.3L287.9 43.8L284.4 40.3Z" fill="#0a9a4c" stroke="#2a2a2a" stroke-width="0.8"/>
<path d="M303.4 35.0L306.9 38.5L303.4 42.0L299.9 38.5Z" fill="#0a9a4c" stroke="#2a2a2a" stroke-width="0.8"/>
<path d="M318.9 34.3L322.4 37.8L318.9 41.3L315.4 37.8Z" fill="#0a9a4c" stroke="#2a2a2a" stroke-width="0.8"/>
<path d="M334.5 33.8L338.0 37.3L334.5 40.8L331.0 37.3Z" fill="#0a9a4c" stroke="#2a2a2a" stroke-width="0.8"/>
<path d="M23.5 115.0L26.1 117.6L23.5 120.2L20.9 117.6Z" fill="#e5202a" stroke="#2a2a2a" stroke-width="0.8"/>
<path d="M39.0 89.7L41.6 92.3L39.0 94.9L36.4 92.3Z" fill="#e5202a" stroke="#2a2a2a" stroke-width="0.8"/>
<path d="M54.6 61.0L57.2 63.6L54.6 66.2L52.0 63.6Z" fill="#e5202a" stroke="#2a2a2a" stroke-width="0.8"/>
<path d="M70.2 64.7L72.8 67.3L70.2 69.9L67.6 67.3Z" fill="#e5202a" stroke="#2a2a2a" stroke-width="0.8"/>
<path d="M85.7 56.9L88.3 59.5L85.7 62.1L83.1 59.5Z" fill="#e5202a" stroke="#2a2a2a" stroke-width="0.8"/>
<path d="M101.2 52.7L103.8 55.3L101.2 57.9L98.7 55.3Z" fill="#e5202a" stroke="#2a2a2a" stroke-width="0.8"/>
<path d="M116.8 45.4L119.4 48.0L116.8 50.6L114.2 48.0Z" fill="#e5202a" stroke="#2a2a2a" stroke-width="0.8"/>
<path d="M132.3 60.7L134.9 63.3L132.3 65.9L129.8 63.3Z" fill="#e5202a" stroke="#2a2a2a" stroke-width="0.8"/>
<path d="M147.9 44.5L150.5 47.1L147.9 49.7L145.3 47.1Z" fill="#e5202a" stroke="#2a2a2a" stroke-width="0.8"/>
<path d="M163.4 41.6L166.0 44.2L163.4 46.8L160.8 44.2Z" fill="#e5202a" stroke="#2a2a2a" stroke-width="0.8"/>
<path d="M179.0 39.4L181.6 42.0L179.0 44.6L176.4 42.0Z" fill="#e5202a" stroke="#2a2a2a" stroke-width="0.8"/>
<path d="M194.6 48.6L197.2 51.2L194.6 53.8L192.0 51.2Z" fill="#e5202a" stroke="#2a2a2a" stroke-width="0.8"/>
<path d="M210.1 35.4L212.7 38.0L210.1 40.6L207.5 38.0Z" fill="#e5202a" stroke="#2a2a2a" stroke-width="0.8"/>
<path d="M225.7 34.2L228.2 36.8L225.7 39.4L223.1 36.8Z" fill="#e5202a" stroke="#2a2a2a" stroke-width="0.8"/>
<path d="M241.2 32.5L243.8 35.1L241.2 37.7L238.6 35.1Z" fill="#e5202a" stroke="#2a2a2a" stroke-width="0.8"/>
<path d="M256.8 38.0L259.4 40.6L256.8 43.2L254.2 40.6Z" fill="#e5202a" stroke="#2a2a2a" stroke-width="0.8"/>
<path d="M272.3 33.7L274.9 36.3L272.3 38.9L269.7 36.3Z" fill="#e5202a" stroke="#2a2a2a" stroke-width="0.8"/>
<path d="M287.9 28.2L290.5 30.8L287.9 33.4L285.2 30.8Z" fill="#e5202a" stroke="#2a2a2a" stroke-width="0.8"/>
<path d="M303.4 30.3L306.0 32.9L303.4 35.5L300.8 32.9Z" fill="#e5202a" stroke="#2a2a2a" stroke-width="0.8"/>
<path d="M318.9 28.3L321.6 30.9L318.9 33.5L316.3 30.9Z" fill="#e5202a" stroke="#2a2a2a" stroke-width="0.8"/>
<path d="M334.5 29.0L337.1 31.6L334.5 34.2L331.9 31.6Z" fill="#e5202a" stroke="#2a2a2a" stroke-width="0.8"/>
<text transform="translate(67.2,30.0) rotate(-5.6)" font-size="9" font-weight="bold" letter-spacing="0.7" fill="#555">D-MORB</text>
<text transform="translate(97.9,46.2) rotate(-5.6)" font-size="8.9" font-weight="bold" letter-spacing="0.63" fill="#e5202a">Most enriched L-FAB</text>
<text transform="translate(257,56.4) rotate(-5.5)" font-size="9.4" font-weight="normal" letter-spacing="0.35" fill="#333">4R-1 100-103</text>
<text transform="translate(215.8,68.9) rotate(-4.2)" font-size="9.3" font-weight="normal" letter-spacing="0.35" fill="#333">30R-1 0-5</text>
<text transform="translate(68.3,107.2) rotate(-29.2)" font-size="9.2" font-weight="bold" letter-spacing="0.45" fill="#00994a">U-FAB</text>
<text transform="translate(160.9,125.3) rotate(-4.75)" font-size="8.9" font-weight="bold" letter-spacing="0.63" fill="#b3479a">Most depleted L-FAB</text>
<rect x="84.5" y="184" width="240.5" height="74.6" fill="#ececec" stroke="#5a5a5a" stroke-width="1.1"/>
<line x1="85" y1="259.2" x2="325.5" y2="259.2" stroke="#9a9a9a" stroke-width="1"/>
<line x1="325.6" y1="184.5" x2="325.6" y2="259.5" stroke="#9a9a9a" stroke-width="1"/>
<text x="159.9" y="196.8" font-size="9" font-weight="bold" letter-spacing="0.5" fill="#222">Forearc basalt</text>
<path d="M90.9 203.6L94.8 207.5L90.9 211.4L87.0 207.5Z" fill="#0a9a4c" stroke="#2a2a2a" stroke-width="0.8"/>
<text x="95.8" y="211.5" font-size="9.8" fill="#2a2a2a">U1440B U-FAB</text>
<path d="M170.8 203.6L174.7 207.5L170.8 211.4L166.9 207.5Z" fill="#e5202a" stroke="#2a2a2a" stroke-width="0.8"/>
<text x="176.1" y="211.5" font-size="9.8" fill="#2a2a2a">U1440B L-FAB</text>
<path d="M250.0 203.6L253.9 207.5L250.0 211.4L246.1 207.5Z" fill="#b3479a" stroke="#2a2a2a" stroke-width="0.8"/>
<text x="255.5" y="211.5" font-size="9.8" fill="#2a2a2a">U1441A L-FAB</text>
<text x="115.9" y="226" font-size="9.4" font-weight="bold" letter-spacing="0.33" fill="#3a3a3a">West Philippine Basin MORB</text>
<rect x="154.7" y="232.9" width="6.6" height="6.6" fill="#fff200" stroke="#333" stroke-width="0.8"/>
<text x="162.5" y="239.7" font-size="9.8" fill="#333">447</text>
<path d="M210,232.6 L213.9,239.6 L206.1,239.6Z" fill="#f18a1c" stroke="#333" stroke-width="0.8"/>
<text x="216" y="240.2" font-size="9.8" fill="#333">1201</text>
<path d="M97.5,246.3 L101.4,253.2 L93.6,253.2Z" fill="#1fa2e0" stroke="#333" stroke-width="0.8"/>
<text x="105.9" y="253.2" font-size="9.4" font-weight="bold" letter-spacing="0.3" fill="#222">U1438 Basalts</text>
<circle cx="206.7" cy="250.8" r="3.2" fill="#d8ecf8"/>
<text x="214.7" y="253.9" font-size="9.4" font-weight="bold" letter-spacing="0.35" fill="#222">Pacific MORB</text>
<path d="M451.6 163.0L456.3 172.2L446.9 172.2Z" fill="#f39019" stroke="#2a2a2a" stroke-width="0.8"/>
<path d="M454.5 170.5L459.2 179.7L449.8 179.7Z" fill="#f39019" stroke="#2a2a2a" stroke-width="0.8"/>
<path d="M448.3 180.8L453.0 190.0L443.6 190.0Z" fill="#f39019" stroke="#2a2a2a" stroke-width="0.8"/>
<path d="M468.0 174.5L472.7 183.7L463.3 183.7Z" fill="#f39019" stroke="#2a2a2a" stroke-width="0.8"/>
<path d="M405.0 170.5L409.7 179.7L400.3 179.7Z" fill="#1ea1e1" stroke="#2a2a2a" stroke-width="0.8"/>
<path d="M419.8 170.5L424.5 179.7L415.1 179.7Z" fill="#1ea1e1" stroke="#2a2a2a" stroke-width="0.8"/>
<path d="M388.6 181.3L393.3 190.5L383.9 190.5Z" fill="#1ea1e1" stroke="#2a2a2a" stroke-width="0.8"/>
<path d="M413.1 189.7L417.8 198.9L408.4 198.9Z" fill="#1ea1e1" stroke="#2a2a2a" stroke-width="0.8"/>
<path d="M425.4 180.0L430.1 189.2L420.7 189.2Z" fill="#1ea1e1" stroke="#2a2a2a" stroke-width="0.8"/>
<path d="M427.8 178.0L432.5 187.2L423.1 187.2Z" fill="#1ea1e1" stroke="#2a2a2a" stroke-width="0.8"/>
<path d="M437.8 181.5L442.5 190.7L433.1 190.7Z" fill="#1ea1e1" stroke="#2a2a2a" stroke-width="0.8"/>
<path d="M432.3 188.1L437.0 197.3L427.6 197.3Z" fill="#1ea1e1" stroke="#2a2a2a" stroke-width="0.8"/>
<path d="M444.7 189.0L449.4 198.2L440.0 198.2Z" fill="#1ea1e1" stroke="#2a2a2a" stroke-width="0.8"/>
<path d="M437.1 195.3L441.8 204.5L432.4 204.5Z" fill="#1ea1e1" stroke="#2a2a2a" stroke-width="0.8"/>
<path d="M448.1 202.3L452.8 211.5L443.4 211.5Z" fill="#1ea1e1" stroke="#2a2a2a" stroke-width="0.8"/>
<path d="M452.2 202.3L456.9 211.5L447.5 211.5Z" fill="#1ea1e1" stroke="#2a2a2a" stroke-width="0.8"/>
<path d="M456.4 202.3L461.1 211.5L451.7 211.5Z" fill="#1ea1e1" stroke="#2a2a2a" stroke-width="0.8"/>
<path d="M460.5 202.3L465.2 211.5L455.8 211.5Z" fill="#1ea1e1" stroke="#2a2a2a" stroke-width="0.8"/>
<path d="M467.1 202.3L471.8 211.5L462.4 211.5Z" fill="#1ea1e1" stroke="#2a2a2a" stroke-width="0.8"/>
<path d="M476.3 192.3L481.0 201.5L471.6 201.5Z" fill="#1ea1e1" stroke="#2a2a2a" stroke-width="0.8"/>
<rect x="395.8" y="148.0" width="9.8" height="9.8" fill="#fff200" stroke="#4a4300" stroke-width="0.8"/>
<rect x="401.5" y="151.5" width="9.8" height="9.8" fill="#fff200" stroke="#4a4300" stroke-width="0.8"/>
<rect x="420.9" y="163.3" width="9.8" height="9.8" fill="#fff200" stroke="#4a4300" stroke-width="0.8"/>
<rect x="431.7" y="158.2" width="9.8" height="9.8" fill="#fff200" stroke="#4a4300" stroke-width="0.8"/>
<rect x="439.5" y="158.2" width="9.8" height="9.8" fill="#fff200" stroke="#4a4300" stroke-width="0.8"/>
<rect x="433.3" y="168.3" width="9.8" height="9.8" fill="#fff200" stroke="#4a4300" stroke-width="0.8"/>
<rect x="440.7" y="175.1" width="9.8" height="9.8" fill="#fff200" stroke="#4a4300" stroke-width="0.8"/>
<rect x="455.7" y="172.6" width="9.8" height="9.8" fill="#fff200" stroke="#4a4300" stroke-width="0.8"/>
<path d="M377.7 168.5L382.3 173.1L377.7 177.7L373.1 173.1Z" fill="#03964a" stroke="#1c1c1c" stroke-width="0.8"/>
<path d="M371.6 173.3L376.2 177.9L371.6 182.5L367.0 177.9Z" fill="#03964a" stroke="#1c1c1c" stroke-width="0.8"/>
<path d="M375.7 174.6L380.3 179.2L375.7 183.8L371.1 179.2Z" fill="#03964a" stroke="#1c1c1c" stroke-width="0.8"/>
<path d="M379.1 173.3L383.7 177.9L379.1 182.5L374.5 177.9Z" fill="#03964a" stroke="#1c1c1c" stroke-width="0.8"/>
<path d="M372.2 179.5L376.8 184.1L372.2 188.7L367.6 184.1Z" fill="#03964a" stroke="#1c1c1c" stroke-width="0.8"/>
<path d="M377.7 179.5L382.3 184.1L377.7 188.7L373.1 184.1Z" fill="#03964a" stroke="#1c1c1c" stroke-width="0.8"/>
<path d="M380.5 182.9L385.1 187.5L380.5 192.1L375.9 187.5Z" fill="#03964a" stroke="#1c1c1c" stroke-width="0.8"/>
<path d="M375.0 182.2L379.6 186.8L375.0 191.4L370.4 186.8Z" fill="#03964a" stroke="#1c1c1c" stroke-width="0.8"/>
<path d="M371.6 185.0L376.2 189.6L371.6 194.2L367.0 189.6Z" fill="#03964a" stroke="#1c1c1c" stroke-width="0.8"/>
<path d="M378.4 185.6L383.0 190.2L378.4 194.8L373.8 190.2Z" fill="#03964a" stroke="#1c1c1c" stroke-width="0.8"/>
<path d="M397.0 182.2L401.6 186.8L397.0 191.4L392.4 186.8Z" fill="#03964a" stroke="#1c1c1c" stroke-width="0.8"/>
<path d="M397.7 187.7L402.3 192.3L397.7 196.9L393.1 192.3Z" fill="#03964a" stroke="#1c1c1c" stroke-width="0.8"/>
<path d="M381.7 202.7L386.3 207.3L381.7 211.9L377.1 207.3Z" fill="#03964a" stroke="#1c1c1c" stroke-width="0.8"/>
<path d="M412.4 182.3L417.0 186.9L412.4 191.5L407.8 186.9Z" fill="#03964a" stroke="#1c1c1c" stroke-width="0.8"/>
<path d="M424.1 205.7L428.7 210.3L424.1 214.9L419.5 210.3Z" fill="#03964a" stroke="#1c1c1c" stroke-width="0.8"/>
<path d="M428.9 200.2L433.5 204.8L428.9 209.4L424.3 204.8Z" fill="#03964a" stroke="#1c1c1c" stroke-width="0.8"/>
<path d="M435.7 204.3L440.3 208.9L435.7 213.5L431.1 208.9Z" fill="#03964a" stroke="#1c1c1c" stroke-width="0.8"/>
<path d="M428.9 207.8L433.5 212.4L428.9 217.0L424.3 212.4Z" fill="#03964a" stroke="#1c1c1c" stroke-width="0.8"/>
<path d="M427.5 215.8L432.1 220.4L427.5 225.0L422.9 220.4Z" fill="#03964a" stroke="#1c1c1c" stroke-width="0.8"/>
<path d="M431.8 221.4L436.4 226.0L431.8 230.6L427.2 226.0Z" fill="#03964a" stroke="#1c1c1c" stroke-width="0.8"/>
<path d="M450.2 211.0L454.8 215.6L450.2 220.2L445.6 215.6Z" fill="#03964a" stroke="#1c1c1c" stroke-width="0.8"/>
<path d="M377.2 109.7L381.8 114.3L377.2 118.9L372.6 114.3Z" fill="#e3242b" stroke="#1c1c1c" stroke-width="0.8"/>
<path d="M373.6 159.4L378.2 164.0L373.6 168.6L369.0 164.0Z" fill="#e3242b" stroke="#1c1c1c" stroke-width="0.8"/>
<path d="M386.0 153.7L390.6 158.3L386.0 162.9L381.4 158.3Z" fill="#e3242b" stroke="#1c1c1c" stroke-width="0.8"/>
<path d="M388.5 156.2L393.1 160.8L388.5 165.4L383.9 160.8Z" fill="#e3242b" stroke="#1c1c1c" stroke-width="0.8"/>
<path d="M408.1 160.3L412.7 164.9L408.1 169.5L403.5 164.9Z" fill="#e3242b" stroke="#1c1c1c" stroke-width="0.8"/>
<path d="M390.9 170.0L395.5 174.6L390.9 179.2L386.3 174.6Z" fill="#e3242b" stroke="#1c1c1c" stroke-width="0.8"/>
<path d="M384.5 175.4L389.1 180.0L384.5 184.6L379.9 180.0Z" fill="#e3242b" stroke="#1c1c1c" stroke-width="0.8"/>
<path d="M396.3 177.4L400.9 182.0L396.3 186.6L391.7 182.0Z" fill="#e3242b" stroke="#1c1c1c" stroke-width="0.8"/>
<path d="M439.1 169.6L443.7 174.2L439.1 178.8L434.5 174.2Z" fill="#e3242b" stroke="#1c1c1c" stroke-width="0.8"/>
<path d="M435.1 192.0L439.7 196.6L435.1 201.2L430.5 196.6Z" fill="#e3242b" stroke="#1c1c1c" stroke-width="0.8"/>
<path d="M452.7 196.1L457.3 200.7L452.7 205.3L448.1 200.7Z" fill="#e3242b" stroke="#1c1c1c" stroke-width="0.8"/>
<path d="M418.7 182.0L423.3 186.6L418.7 191.2L414.1 186.6Z" fill="#aa4a98" stroke="#1c1c1c" stroke-width="0.8"/>
<path d="M407.6 189.9L412.2 194.5L407.6 199.1L403.0 194.5Z" fill="#aa4a98" stroke="#1c1c1c" stroke-width="0.8"/>
<path d="M503.0 234.2L507.6 238.8L503.0 243.4L498.4 238.8Z" fill="#aa4a98" stroke="#1c1c1c" stroke-width="0.8"/>
<path d="M619.4 177.8L624.1 187.0L614.7 187.0Z" fill="#f39019" stroke="#2a2a2a" stroke-width="0.8"/>
<path d="M626.6 183.1L631.3 192.3L621.9 192.3Z" fill="#f39019" stroke="#2a2a2a" stroke-width="0.8"/>
<path d="M617.1 188.4L621.8 197.6L612.4 197.6Z" fill="#f39019" stroke="#2a2a2a" stroke-width="0.8"/>
<path d="M614.5 195.3L619.2 204.5L609.8 204.5Z" fill="#f39019" stroke="#2a2a2a" stroke-width="0.8"/>
<path d="M632.6 185.8L637.3 195.0L627.9 195.0Z" fill="#f39019" stroke="#2a2a2a" stroke-width="0.8"/>
<path d="M626.9 183.7L631.6 192.9L622.2 192.9Z" fill="#f39019" stroke="#2a2a2a" stroke-width="0.8"/>
<path d="M635.5 187.2L640.2 196.4L630.8 196.4Z" fill="#f39019" stroke="#2a2a2a" stroke-width="0.8"/>
<path d="M571.0 174.0L575.7 183.2L566.3 183.2Z" fill="#1ea1e1" stroke="#2a2a2a" stroke-width="0.8"/>
<path d="M553.6 188.7L558.3 197.9L548.9 197.9Z" fill="#1ea1e1" stroke="#2a2a2a" stroke-width="0.8"/>
<path d="M555.4 191.3L560.1 200.5L550.7 200.5Z" fill="#1ea1e1" stroke="#2a2a2a" stroke-width="0.8"/>
<path d="M577.7 193.0L582.4 202.2L573.0 202.2Z" fill="#1ea1e1" stroke="#2a2a2a" stroke-width="0.8"/>
<path d="M584.6 191.5L589.3 200.7L579.9 200.7Z" fill="#1ea1e1" stroke="#2a2a2a" stroke-width="0.8"/>
<path d="M593.0 185.8L597.7 195.0L588.3 195.0Z" fill="#1ea1e1" stroke="#2a2a2a" stroke-width="0.8"/>
<path d="M601.6 199.6L606.3 208.8L596.9 208.8Z" fill="#1ea1e1" stroke="#2a2a2a" stroke-width="0.8"/>
<path d="M621.4 205.6L626.1 214.8L616.7 214.8Z" fill="#1ea1e1" stroke="#2a2a2a" stroke-width="0.8"/>
<path d="M625.7 209.0L630.4 218.2L621.0 218.2Z" fill="#1ea1e1" stroke="#2a2a2a" stroke-width="0.8"/>
<path d="M632.6 210.8L637.3 220.0L627.9 220.0Z" fill="#1ea1e1" stroke="#2a2a2a" stroke-width="0.8"/>
<path d="M613.7 214.2L618.4 223.4L609.0 223.4Z" fill="#1ea1e1" stroke="#2a2a2a" stroke-width="0.8"/>
<path d="M644.4 193.2L649.1 202.4L639.7 202.4Z" fill="#1ea1e1" stroke="#2a2a2a" stroke-width="0.8"/>
<path d="M634.5 211.7L639.2 220.9L629.8 220.9Z" fill="#1ea1e1" stroke="#2a2a2a" stroke-width="0.8"/>
<path d="M626.7 210.8L631.4 220.0L622.0 220.0Z" fill="#1ea1e1" stroke="#2a2a2a" stroke-width="0.8"/>
<path d="M599.0 197.5L603.7 206.7L594.3 206.7Z" fill="#1ea1e1" stroke="#2a2a2a" stroke-width="0.8"/>
<rect x="561.6" y="154.7" width="9.8" height="9.8" fill="#fff200" stroke="#4a4300" stroke-width="0.8"/>
<rect x="567.7" y="156.4" width="9.8" height="9.8" fill="#fff200" stroke="#4a4300" stroke-width="0.8"/>
<rect x="587.3" y="172.4" width="9.8" height="9.8" fill="#fff200" stroke="#4a4300" stroke-width="0.8"/>
<rect x="599.7" y="175.6" width="9.8" height="9.8" fill="#fff200" stroke="#4a4300" stroke-width="0.8"/>
<rect x="598.5" y="186.1" width="9.8" height="9.8" fill="#fff200" stroke="#4a4300" stroke-width="0.8"/>
<rect x="606.2" y="186.1" width="9.8" height="9.8" fill="#fff200" stroke="#4a4300" stroke-width="0.8"/>
<rect x="622.5" y="194.2" width="9.8" height="9.8" fill="#fff200" stroke="#4a4300" stroke-width="0.8"/>
<rect x="607.6" y="204.1" width="9.8" height="9.8" fill="#fff200" stroke="#4a4300" stroke-width="0.8"/>
<path d="M537.3 160.9L541.9 165.5L537.3 170.1L532.7 165.5Z" fill="#03964a" stroke="#1c1c1c" stroke-width="0.8"/>
<path d="M543.3 160.9L547.9 165.5L543.3 170.1L538.7 165.5Z" fill="#03964a" stroke="#1c1c1c" stroke-width="0.8"/>
<path d="M541.6 164.1L546.2 168.7L541.6 173.3L537.0 168.7Z" fill="#03964a" stroke="#1c1c1c" stroke-width="0.8"/>
<path d="M536.5 166.9L541.1 171.5L536.5 176.1L531.9 171.5Z" fill="#03964a" stroke="#1c1c1c" stroke-width="0.8"/>
<path d="M542.5 167.4L547.1 172.0L542.5 176.6L537.9 172.0Z" fill="#03964a" stroke="#1c1c1c" stroke-width="0.8"/>
<path d="M546.8 165.8L551.4 170.4L546.8 175.0L542.2 170.4Z" fill="#03964a" stroke="#1c1c1c" stroke-width="0.8"/>
<path d="M538.5 171.9L543.1 176.5L538.5 181.1L533.9 176.5Z" fill="#03964a" stroke="#1c1c1c" stroke-width="0.8"/>
<path d="M544.5 172.9L549.1 177.5L544.5 182.1L539.9 177.5Z" fill="#03964a" stroke="#1c1c1c" stroke-width="0.8"/>
<path d="M545.9 178.4L550.5 183.0L545.9 187.6L541.3 183.0Z" fill="#03964a" stroke="#1c1c1c" stroke-width="0.8"/>
<path d="M539.0 183.8L543.6 188.4L539.0 193.0L534.4 188.4Z" fill="#03964a" stroke="#1c1c1c" stroke-width="0.8"/>
<path d="M547.5 194.8L552.1 199.4L547.5 204.0L542.9 199.4Z" fill="#03964a" stroke="#1c1c1c" stroke-width="0.8"/>
<path d="M547.5 205.8L552.1 210.4L547.5 215.0L542.9 210.4Z" fill="#03964a" stroke="#1c1c1c" stroke-width="0.8"/>
<path d="M563.8 171.1L568.4 175.7L563.8 180.3L559.2 175.7Z" fill="#03964a" stroke="#1c1c1c" stroke-width="0.8"/>
<path d="M563.1 176.7L567.7 181.3L563.1 185.9L558.5 181.3Z" fill="#03964a" stroke="#1c1c1c" stroke-width="0.8"/>
<path d="M563.1 182.2L567.7 186.8L563.1 191.4L558.5 186.8Z" fill="#03964a" stroke="#1c1c1c" stroke-width="0.8"/>
<path d="M578.5 180.7L583.1 185.3L578.5 189.9L573.9 185.3Z" fill="#03964a" stroke="#1c1c1c" stroke-width="0.8"/>
<path d="M589.8 202.7L594.4 207.3L589.8 211.9L585.2 207.3Z" fill="#03964a" stroke="#1c1c1c" stroke-width="0.8"/>
<path d="M596.6 206.2L601.2 210.8L596.6 215.4L592.0 210.8Z" fill="#03964a" stroke="#1c1c1c" stroke-width="0.8"/>
<path d="M588.5 208.7L593.1 213.3L588.5 217.9L583.9 213.3Z" fill="#03964a" stroke="#1c1c1c" stroke-width="0.8"/>
<path d="M602.4 210.2L607.0 214.8L602.4 219.4L597.8 214.8Z" fill="#03964a" stroke="#1c1c1c" stroke-width="0.8"/>
<path d="M595.2 215.3L599.8 219.9L595.2 224.5L590.6 219.9Z" fill="#03964a" stroke="#1c1c1c" stroke-width="0.8"/>
<path d="M594.3 223.6L598.9 228.2L594.3 232.8L589.7 228.2Z" fill="#03964a" stroke="#1c1c1c" stroke-width="0.8"/>
<path d="M598.6 228.0L603.2 232.6L598.6 237.2L594.0 232.6Z" fill="#03964a" stroke="#1c1c1c" stroke-width="0.8"/>
<path d="M617.1 214.2L621.7 218.8L617.1 223.4L612.5 218.8Z" fill="#03964a" stroke="#1c1c1c" stroke-width="0.8"/>
<path d="M543.1 75.1L547.7 79.7L543.1 84.3L538.5 79.7Z" fill="#e3242b" stroke="#1c1c1c" stroke-width="0.8"/>
<path d="M551.6 138.6L556.2 143.2L551.6 147.8L547.0 143.2Z" fill="#e3242b" stroke="#1c1c1c" stroke-width="0.8"/>
<path d="M553.2 137.0L557.8 141.6L553.2 146.2L548.6 141.6Z" fill="#e3242b" stroke="#1c1c1c" stroke-width="0.8"/>
<path d="M557.1 154.3L561.7 158.9L557.1 163.5L552.5 158.9Z" fill="#e3242b" stroke="#1c1c1c" stroke-width="0.8"/>
<path d="M573.8 156.4L578.4 161.0L573.8 165.6L569.2 161.0Z" fill="#e3242b" stroke="#1c1c1c" stroke-width="0.8"/>
<path d="M562.8 164.4L567.4 169.0L562.8 173.6L558.2 169.0Z" fill="#e3242b" stroke="#1c1c1c" stroke-width="0.8"/>
<path d="M551.1 167.4L555.7 172.0L551.1 176.6L546.5 172.0Z" fill="#e3242b" stroke="#1c1c1c" stroke-width="0.8"/>
<path d="M606.3 162.6L610.9 167.2L606.3 171.8L601.7 167.2Z" fill="#e3242b" stroke="#1c1c1c" stroke-width="0.8"/>
<path d="M601.6 196.4L606.2 201.0L601.6 205.6L597.0 201.0Z" fill="#e3242b" stroke="#1c1c1c" stroke-width="0.8"/>
<path d="M620.0 197.9L624.6 202.5L620.0 207.1L615.4 202.5Z" fill="#e3242b" stroke="#1c1c1c" stroke-width="0.8"/>
<path d="M574.3 185.4L578.9 190.0L574.3 194.6L569.7 190.0Z" fill="#aa4a98" stroke="#1c1c1c" stroke-width="0.8"/>
<path d="M584.6 179.6L589.2 184.2L584.6 188.8L580.0 184.2Z" fill="#aa4a98" stroke="#1c1c1c" stroke-width="0.8"/>
<path d="M671.4 231.8L676.0 236.4L671.4 241.0L666.8 236.4Z" fill="#aa4a98" stroke="#1c1c1c" stroke-width="0.8"/>
</svg></body></html>
